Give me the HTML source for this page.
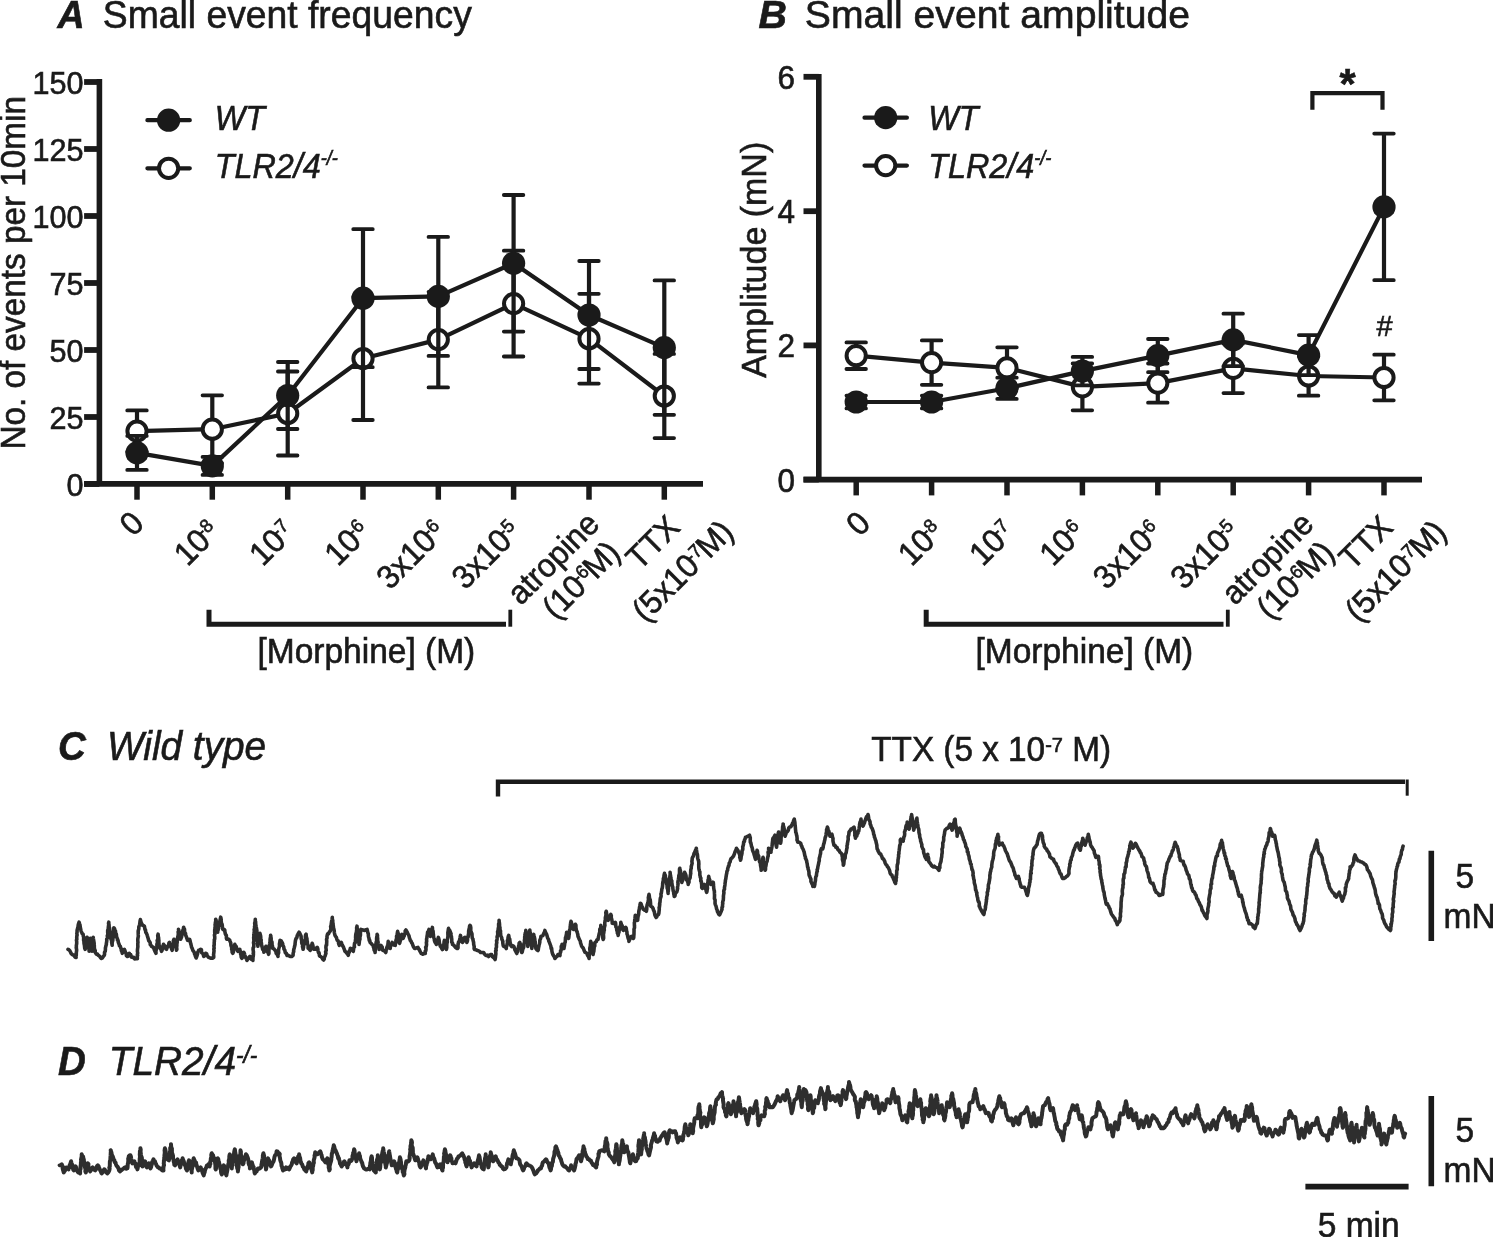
<!DOCTYPE html>
<html><head><meta charset="utf-8"><title>Figure</title>
<style>
html,body{margin:0;padding:0;background:#fff;}
svg{display:block;font-family:"Liberation Sans", Arial, Helvetica, sans-serif;fill:#1a1a1a;}
text{stroke:#1a1a1a;stroke-width:0.6px;}
</style></head><body>
<svg width="1493" height="1237" viewBox="0 0 1493 1237">
<rect width="1493" height="1237" fill="#fff"/>
<text transform="translate(57.5 28.3) scale(1 1.04)" font-size="37.5" font-weight="bold" font-style="italic">A</text>
<text transform="translate(102.8 28.3) scale(1 1.04)" font-size="37.3">Small event frequency</text>
<text transform="translate(758.5 28.3) scale(1.05 1.04)" font-size="37.5" font-weight="bold" font-style="italic">B</text>
<text transform="translate(804.8 28.3) scale(1.05 1.04)" font-size="37.3">Small event amplitude</text>
<path d="M99.4 79.1 V483.9" stroke="#1a1a1a" stroke-width="5.6" fill="none"/>
<path d="M84.10000000000001 483.9 H703" stroke="#1a1a1a" stroke-width="5.9" fill="none"/>
<path d="M84.10000000000001 82 H99.4" stroke="#1a1a1a" stroke-width="5.8" fill="none"/>
<text transform="translate(83.5 93.6) scale(1 1.04)" font-size="30.6" text-anchor="end">150</text>
<path d="M84.10000000000001 149 H99.4" stroke="#1a1a1a" stroke-width="5.8" fill="none"/>
<text transform="translate(83.5 160.6) scale(1 1.04)" font-size="30.6" text-anchor="end">125</text>
<path d="M84.10000000000001 216 H99.4" stroke="#1a1a1a" stroke-width="5.8" fill="none"/>
<text transform="translate(83.5 227.6) scale(1 1.04)" font-size="30.6" text-anchor="end">100</text>
<path d="M84.10000000000001 283 H99.4" stroke="#1a1a1a" stroke-width="5.8" fill="none"/>
<text transform="translate(83.5 294.6) scale(1 1.04)" font-size="30.6" text-anchor="end">75</text>
<path d="M84.10000000000001 350 H99.4" stroke="#1a1a1a" stroke-width="5.8" fill="none"/>
<text transform="translate(83.5 361.6) scale(1 1.04)" font-size="30.6" text-anchor="end">50</text>
<path d="M84.10000000000001 417 H99.4" stroke="#1a1a1a" stroke-width="5.8" fill="none"/>
<text transform="translate(83.5 428.6) scale(1 1.04)" font-size="30.6" text-anchor="end">25</text>
<path d="M84.10000000000001 484 H99.4" stroke="#1a1a1a" stroke-width="5.8" fill="none"/>
<text transform="translate(83.5 495.6) scale(1 1.04)" font-size="30.6" text-anchor="end">0</text>
<path d="M137.0 483.9 V499.7" stroke="#1a1a1a" stroke-width="5.5" fill="none"/>
<path d="M212.3 483.9 V499.7" stroke="#1a1a1a" stroke-width="5.5" fill="none"/>
<path d="M287.7 483.9 V499.7" stroke="#1a1a1a" stroke-width="5.5" fill="none"/>
<path d="M363.0 483.9 V499.7" stroke="#1a1a1a" stroke-width="5.5" fill="none"/>
<path d="M438.3 483.9 V499.7" stroke="#1a1a1a" stroke-width="5.5" fill="none"/>
<path d="M513.6 483.9 V499.7" stroke="#1a1a1a" stroke-width="5.5" fill="none"/>
<path d="M589.0 483.9 V499.7" stroke="#1a1a1a" stroke-width="5.5" fill="none"/>
<path d="M664.3 483.9 V499.7" stroke="#1a1a1a" stroke-width="5.5" fill="none"/>
<path d="M137.0 410.40000000000003 V451.8" stroke="#1a1a1a" stroke-width="4.2" fill="none"/><path d="M127.25 410.40000000000003 H146.75 M127.25 451.8 H146.75" stroke="#1a1a1a" stroke-width="3.8" fill="none" stroke-linecap="round"/>
<path d="M212.3 395.3 V463.09999999999997" stroke="#1a1a1a" stroke-width="4.2" fill="none"/><path d="M202.55 395.3 H222.05 M202.55 463.09999999999997 H222.05" stroke="#1a1a1a" stroke-width="3.8" fill="none" stroke-linecap="round"/>
<path d="M287.7 371.5 V455.5" stroke="#1a1a1a" stroke-width="4.2" fill="none"/><path d="M277.95 371.5 H297.45 M277.95 455.5 H297.45" stroke="#1a1a1a" stroke-width="3.8" fill="none" stroke-linecap="round"/>
<path d="M363.0 297.0 V420.0" stroke="#1a1a1a" stroke-width="4.2" fill="none"/><path d="M353.25 297.0 H372.75 M353.25 420.0 H372.75" stroke="#1a1a1a" stroke-width="3.8" fill="none" stroke-linecap="round"/>
<path d="M438.3 291.8 V387.40000000000003" stroke="#1a1a1a" stroke-width="4.2" fill="none"/><path d="M428.55 291.8 H448.05 M428.55 387.40000000000003 H448.05" stroke="#1a1a1a" stroke-width="3.8" fill="none" stroke-linecap="round"/>
<path d="M513.6 250.70000000000002 V356.5" stroke="#1a1a1a" stroke-width="4.2" fill="none"/><path d="M503.85 250.70000000000002 H523.35 M503.85 356.5 H523.35" stroke="#1a1a1a" stroke-width="3.8" fill="none" stroke-linecap="round"/>
<path d="M589.0 293.8 V383.59999999999997" stroke="#1a1a1a" stroke-width="4.2" fill="none"/><path d="M579.25 293.8 H598.75 M579.25 383.59999999999997 H598.75" stroke="#1a1a1a" stroke-width="3.8" fill="none" stroke-linecap="round"/>
<path d="M664.3 353.9 V438.1" stroke="#1a1a1a" stroke-width="4.2" fill="none"/><path d="M654.55 353.9 H674.05 M654.55 438.1 H674.05" stroke="#1a1a1a" stroke-width="3.8" fill="none" stroke-linecap="round"/>
<polyline points="137.0,431.1 212.3,429.2 287.7,413.5 363.0,358.5 438.3,339.6 513.6,303.6 589.0,338.7 664.3,396" stroke="#1a1a1a" stroke-width="4.2" fill="none" stroke-linejoin="round"/>
<circle cx="137.0" cy="431.1" r="9.6" fill="#fff" stroke="#1a1a1a" stroke-width="4"/>
<circle cx="212.3" cy="429.2" r="9.6" fill="#fff" stroke="#1a1a1a" stroke-width="4"/>
<circle cx="287.7" cy="413.5" r="9.6" fill="#fff" stroke="#1a1a1a" stroke-width="4"/>
<circle cx="363.0" cy="358.5" r="9.6" fill="#fff" stroke="#1a1a1a" stroke-width="4"/>
<circle cx="438.3" cy="339.6" r="9.6" fill="#fff" stroke="#1a1a1a" stroke-width="4"/>
<circle cx="513.6" cy="303.6" r="9.6" fill="#fff" stroke="#1a1a1a" stroke-width="4"/>
<circle cx="589.0" cy="338.7" r="9.6" fill="#fff" stroke="#1a1a1a" stroke-width="4"/>
<circle cx="664.3" cy="396" r="9.6" fill="#fff" stroke="#1a1a1a" stroke-width="4"/>
<path d="M137.0 435.9 V469.9" stroke="#1a1a1a" stroke-width="4.2" fill="none"/><path d="M127.25 435.9 H146.75 M127.25 469.9 H146.75" stroke="#1a1a1a" stroke-width="3.8" fill="none" stroke-linecap="round"/>
<path d="M212.3 456.9 V474.9" stroke="#1a1a1a" stroke-width="4.2" fill="none"/><path d="M202.55 456.9 H222.05 M202.55 474.9 H222.05" stroke="#1a1a1a" stroke-width="3.8" fill="none" stroke-linecap="round"/>
<path d="M287.7 362.0 V429.0" stroke="#1a1a1a" stroke-width="4.2" fill="none"/><path d="M277.95 362.0 H297.45 M277.95 429.0 H297.45" stroke="#1a1a1a" stroke-width="3.8" fill="none" stroke-linecap="round"/>
<path d="M363.0 229.2 V367.2" stroke="#1a1a1a" stroke-width="4.2" fill="none"/><path d="M353.25 229.2 H372.75 M353.25 367.2 H372.75" stroke="#1a1a1a" stroke-width="3.8" fill="none" stroke-linecap="round"/>
<path d="M438.3 236.89999999999998 V355.9" stroke="#1a1a1a" stroke-width="4.2" fill="none"/><path d="M428.55 236.89999999999998 H448.05 M428.55 355.9 H448.05" stroke="#1a1a1a" stroke-width="3.8" fill="none" stroke-linecap="round"/>
<path d="M513.6 195.0 V331.6" stroke="#1a1a1a" stroke-width="4.2" fill="none"/><path d="M503.85 195.0 H523.35 M503.85 331.6 H523.35" stroke="#1a1a1a" stroke-width="3.8" fill="none" stroke-linecap="round"/>
<path d="M589.0 261 V369" stroke="#1a1a1a" stroke-width="4.2" fill="none"/><path d="M579.25 261 H598.75 M579.25 369 H598.75" stroke="#1a1a1a" stroke-width="3.8" fill="none" stroke-linecap="round"/>
<path d="M664.3 280.40000000000003 V414.8" stroke="#1a1a1a" stroke-width="4.2" fill="none"/><path d="M654.55 280.40000000000003 H674.05 M654.55 414.8 H674.05" stroke="#1a1a1a" stroke-width="3.8" fill="none" stroke-linecap="round"/>
<polyline points="137.0,452.9 212.3,465.9 287.7,395.5 363.0,298.2 438.3,296.4 513.6,263.3 589.0,315 664.3,347.6" stroke="#1a1a1a" stroke-width="4.2" fill="none" stroke-linejoin="round"/>
<circle cx="137.0" cy="452.9" r="11.6" fill="#1a1a1a"/>
<circle cx="212.3" cy="465.9" r="11.6" fill="#1a1a1a"/>
<circle cx="287.7" cy="395.5" r="11.6" fill="#1a1a1a"/>
<circle cx="363.0" cy="298.2" r="11.6" fill="#1a1a1a"/>
<circle cx="438.3" cy="296.4" r="11.6" fill="#1a1a1a"/>
<circle cx="513.6" cy="263.3" r="11.6" fill="#1a1a1a"/>
<circle cx="589.0" cy="315" r="11.6" fill="#1a1a1a"/>
<circle cx="664.3" cy="347.6" r="11.6" fill="#1a1a1a"/>
<path d="M147.4 120.2 H189.79999999999998 M147.4 168.3 H189.79999999999998" stroke="#1a1a1a" stroke-width="4.2" fill="none" stroke-linecap="round"/>
<circle cx="168.6" cy="120.2" r="11.6" fill="#1a1a1a"/>
<circle cx="168.6" cy="168.3" r="9.6" fill="#fff" stroke="#1a1a1a" stroke-width="4"/>
<text transform="translate(214.7 130.2) scale(0.965 1.04)" font-size="33.5" font-style="italic">WT</text>
<text transform="translate(214.7 177.6) scale(0.965 1.04)" font-size="33.5" font-style="italic">TLR2/4<tspan font-size="56%" dy="-0.64em">-/-</tspan></text>
<text transform="translate(145.6 525.0) rotate(-45) scale(1 1.04)" font-size="31.5" text-anchor="end">0</text>
<text transform="translate(221.1 533.6) rotate(-45) scale(1 1.04)" font-size="31.5" text-anchor="end">10<tspan font-size="58%" dy="-0.5em" dx="-3.6">-8</tspan></text>
<text transform="translate(296.5 533.6) rotate(-45) scale(1 1.04)" font-size="31.5" text-anchor="end">10<tspan font-size="58%" dy="-0.5em" dx="-3.6">-7</tspan></text>
<text transform="translate(371.8 533.6) rotate(-45) scale(1 1.04)" font-size="31.5" text-anchor="end">10<tspan font-size="58%" dy="-0.5em" dx="-3.6">-6</tspan></text>
<text transform="translate(447.1 533.6) rotate(-45) scale(1 1.04)" font-size="31.5" text-anchor="end">3x10<tspan font-size="58%" dy="-0.5em" dx="-3.6">-6</tspan></text>
<text transform="translate(522.4 533.6) rotate(-45) scale(1 1.04)" font-size="31.5" text-anchor="end">3x10<tspan font-size="58%" dy="-0.5em" dx="-3.6">-5</tspan></text>
<text transform="translate(561.0 566.1) rotate(-45) scale(1 1.04)" font-size="31.5" text-anchor="middle">atropine</text>
<text transform="translate(588.8 587.6) rotate(-45) scale(1 1.04)" font-size="31.5" text-anchor="middle">(10<tspan font-size="58%" dy="-0.5em" dx="-3.6">-6</tspan><tspan dy="0.29em" dx="-1.3">M)</tspan></text>
<text transform="translate(660.6 550.1) rotate(-45) scale(1 1.04)" font-size="31.5" text-anchor="middle">TTX</text>
<text transform="translate(690.3 578.55) rotate(-45) scale(1 1.04)" font-size="31.5" text-anchor="middle">(5x10<tspan font-size="58%" dy="-0.5em" dx="-3.6">-7</tspan><tspan dy="0.29em" dx="-1.3">M)</tspan></text>
<path d="M209 609.7 V624.2 H506" stroke="#1a1a1a" stroke-width="5" fill="none" stroke-linejoin="miter"/>
<path d="M510.3 609.7 V626.7" stroke="#1a1a1a" stroke-width="3.8" fill="none"/>
<text transform="translate(257.5 663) scale(1 1.04)" font-size="33.5">[Morphine] (M)</text>
<path d="M818.8 73.89999999999999 V479.6" stroke="#1a1a1a" stroke-width="5.6" fill="none"/>
<path d="M803.5 479.6 H1422" stroke="#1a1a1a" stroke-width="5.9" fill="none"/>
<path d="M803.5 76.8 H818.8" stroke="#1a1a1a" stroke-width="5.8" fill="none"/>
<text transform="translate(795 88.8) scale(1 1.04)" font-size="31.5" text-anchor="end">6</text>
<path d="M803.5 211.2 H818.8" stroke="#1a1a1a" stroke-width="5.8" fill="none"/>
<text transform="translate(795 223.2) scale(1 1.04)" font-size="31.5" text-anchor="end">4</text>
<path d="M803.5 345.4 H818.8" stroke="#1a1a1a" stroke-width="5.8" fill="none"/>
<text transform="translate(795 357.4) scale(1 1.04)" font-size="31.5" text-anchor="end">2</text>
<path d="M803.5 479.6 H818.8" stroke="#1a1a1a" stroke-width="5.8" fill="none"/>
<text transform="translate(795 491.6) scale(1 1.04)" font-size="31.5" text-anchor="end">0</text>
<path d="M856.2 479.6 V495.40000000000003" stroke="#1a1a1a" stroke-width="5.5" fill="none"/>
<path d="M931.6 479.6 V495.40000000000003" stroke="#1a1a1a" stroke-width="5.5" fill="none"/>
<path d="M1007.0 479.6 V495.40000000000003" stroke="#1a1a1a" stroke-width="5.5" fill="none"/>
<path d="M1082.4 479.6 V495.40000000000003" stroke="#1a1a1a" stroke-width="5.5" fill="none"/>
<path d="M1157.8 479.6 V495.40000000000003" stroke="#1a1a1a" stroke-width="5.5" fill="none"/>
<path d="M1233.2 479.6 V495.40000000000003" stroke="#1a1a1a" stroke-width="5.5" fill="none"/>
<path d="M1308.6 479.6 V495.40000000000003" stroke="#1a1a1a" stroke-width="5.5" fill="none"/>
<path d="M1384.0 479.6 V495.40000000000003" stroke="#1a1a1a" stroke-width="5.5" fill="none"/>
<path d="M856.2 342.4 V369.0" stroke="#1a1a1a" stroke-width="4.2" fill="none"/><path d="M846.45 342.4 H865.95 M846.45 369.0 H865.95" stroke="#1a1a1a" stroke-width="3.8" fill="none" stroke-linecap="round"/>
<path d="M931.6 340.40000000000003 V384.8" stroke="#1a1a1a" stroke-width="4.2" fill="none"/><path d="M921.85 340.40000000000003 H941.35 M921.85 384.8 H941.35" stroke="#1a1a1a" stroke-width="3.8" fill="none" stroke-linecap="round"/>
<path d="M1007.0 347.29999999999995 V388.5" stroke="#1a1a1a" stroke-width="4.2" fill="none"/><path d="M997.25 347.29999999999995 H1016.75 M997.25 388.5 H1016.75" stroke="#1a1a1a" stroke-width="3.8" fill="none" stroke-linecap="round"/>
<path d="M1082.4 363.5 V410.29999999999995" stroke="#1a1a1a" stroke-width="4.2" fill="none"/><path d="M1072.65 363.5 H1092.15 M1072.65 410.29999999999995 H1092.15" stroke="#1a1a1a" stroke-width="3.8" fill="none" stroke-linecap="round"/>
<path d="M1157.8 363.5 V402.70000000000005" stroke="#1a1a1a" stroke-width="4.2" fill="none"/><path d="M1148.05 363.5 H1167.55 M1148.05 402.70000000000005 H1167.55" stroke="#1a1a1a" stroke-width="3.8" fill="none" stroke-linecap="round"/>
<path d="M1233.2 343.7 V393.09999999999997" stroke="#1a1a1a" stroke-width="4.2" fill="none"/><path d="M1223.45 343.7 H1242.95 M1223.45 393.09999999999997 H1242.95" stroke="#1a1a1a" stroke-width="3.8" fill="none" stroke-linecap="round"/>
<path d="M1308.6 356.3 V395.7" stroke="#1a1a1a" stroke-width="4.2" fill="none"/><path d="M1298.85 356.3 H1318.35 M1298.85 395.7 H1318.35" stroke="#1a1a1a" stroke-width="3.8" fill="none" stroke-linecap="round"/>
<path d="M1384.0 354.7 V400.3" stroke="#1a1a1a" stroke-width="4.2" fill="none"/><path d="M1374.25 354.7 H1393.75 M1374.25 400.3 H1393.75" stroke="#1a1a1a" stroke-width="3.8" fill="none" stroke-linecap="round"/>
<polyline points="856.2,355.7 931.6,362.6 1007.0,367.9 1082.4,386.9 1157.8,383.1 1233.2,368.4 1308.6,376 1384.0,377.5" stroke="#1a1a1a" stroke-width="4.2" fill="none" stroke-linejoin="round"/>
<circle cx="856.2" cy="355.7" r="9.6" fill="#fff" stroke="#1a1a1a" stroke-width="4"/>
<circle cx="931.6" cy="362.6" r="9.6" fill="#fff" stroke="#1a1a1a" stroke-width="4"/>
<circle cx="1007.0" cy="367.9" r="9.6" fill="#fff" stroke="#1a1a1a" stroke-width="4"/>
<circle cx="1082.4" cy="386.9" r="9.6" fill="#fff" stroke="#1a1a1a" stroke-width="4"/>
<circle cx="1157.8" cy="383.1" r="9.6" fill="#fff" stroke="#1a1a1a" stroke-width="4"/>
<circle cx="1233.2" cy="368.4" r="9.6" fill="#fff" stroke="#1a1a1a" stroke-width="4"/>
<circle cx="1308.6" cy="376" r="9.6" fill="#fff" stroke="#1a1a1a" stroke-width="4"/>
<circle cx="1384.0" cy="377.5" r="9.6" fill="#fff" stroke="#1a1a1a" stroke-width="4"/>
<path d="M856.2 395.6 V408.4" stroke="#1a1a1a" stroke-width="4.2" fill="none"/><path d="M846.45 395.6 H865.95 M846.45 408.4 H865.95" stroke="#1a1a1a" stroke-width="3.8" fill="none" stroke-linecap="round"/>
<path d="M931.6 395.6 V408.4" stroke="#1a1a1a" stroke-width="4.2" fill="none"/><path d="M921.85 395.6 H941.35 M921.85 408.4 H941.35" stroke="#1a1a1a" stroke-width="3.8" fill="none" stroke-linecap="round"/>
<path d="M1007.0 377.7 V398.90000000000003" stroke="#1a1a1a" stroke-width="4.2" fill="none"/><path d="M997.25 377.7 H1016.75 M997.25 398.90000000000003 H1016.75" stroke="#1a1a1a" stroke-width="3.8" fill="none" stroke-linecap="round"/>
<path d="M1082.4 356.90000000000003 V385.3" stroke="#1a1a1a" stroke-width="4.2" fill="none"/><path d="M1072.65 356.90000000000003 H1092.15 M1072.65 385.3 H1092.15" stroke="#1a1a1a" stroke-width="3.8" fill="none" stroke-linecap="round"/>
<path d="M1157.8 339.0 V372.20000000000005" stroke="#1a1a1a" stroke-width="4.2" fill="none"/><path d="M1148.05 339.0 H1167.55 M1148.05 372.20000000000005 H1167.55" stroke="#1a1a1a" stroke-width="3.8" fill="none" stroke-linecap="round"/>
<path d="M1233.2 313.7 V366.09999999999997" stroke="#1a1a1a" stroke-width="4.2" fill="none"/><path d="M1223.45 313.7 H1242.95 M1223.45 366.09999999999997 H1242.95" stroke="#1a1a1a" stroke-width="3.8" fill="none" stroke-linecap="round"/>
<path d="M1308.6 335.1 V375.1" stroke="#1a1a1a" stroke-width="4.2" fill="none"/><path d="M1298.85 335.1 H1318.35 M1298.85 375.1 H1318.35" stroke="#1a1a1a" stroke-width="3.8" fill="none" stroke-linecap="round"/>
<path d="M1384.0 133.60000000000002 V280.2" stroke="#1a1a1a" stroke-width="4.2" fill="none"/><path d="M1374.25 133.60000000000002 H1393.75 M1374.25 280.2 H1393.75" stroke="#1a1a1a" stroke-width="3.8" fill="none" stroke-linecap="round"/>
<polyline points="856.2,402.0 931.6,402.0 1007.0,388.3 1082.4,371.1 1157.8,355.6 1233.2,339.9 1308.6,355.1 1384.0,206.9" stroke="#1a1a1a" stroke-width="4.2" fill="none" stroke-linejoin="round"/>
<circle cx="856.2" cy="402.0" r="11.6" fill="#1a1a1a"/>
<circle cx="931.6" cy="402.0" r="11.6" fill="#1a1a1a"/>
<circle cx="1007.0" cy="388.3" r="11.6" fill="#1a1a1a"/>
<circle cx="1082.4" cy="371.1" r="11.6" fill="#1a1a1a"/>
<circle cx="1157.8" cy="355.6" r="11.6" fill="#1a1a1a"/>
<circle cx="1233.2" cy="339.9" r="11.6" fill="#1a1a1a"/>
<circle cx="1308.6" cy="355.1" r="11.6" fill="#1a1a1a"/>
<circle cx="1384.0" cy="206.9" r="11.6" fill="#1a1a1a"/>
<path d="M864.5 117.65 H906.9000000000001 M864.5 165.6 H906.9000000000001" stroke="#1a1a1a" stroke-width="4.2" fill="none" stroke-linecap="round"/>
<circle cx="885.7" cy="117.65" r="11.6" fill="#1a1a1a"/>
<circle cx="885.7" cy="165.6" r="9.6" fill="#fff" stroke="#1a1a1a" stroke-width="4"/>
<text transform="translate(928.3 130.2) scale(0.965 1.04)" font-size="33.5" font-style="italic">WT</text>
<text transform="translate(928.3 177.6) scale(0.965 1.04)" font-size="33.5" font-style="italic">TLR2/4<tspan font-size="56%" dy="-0.64em">-/-</tspan></text>
<text transform="translate(872.1 525.0) rotate(-45) scale(1 1.04)" font-size="31.5" text-anchor="end">0</text>
<text transform="translate(945.2 533.6) rotate(-45) scale(1 1.04)" font-size="31.5" text-anchor="end">10<tspan font-size="58%" dy="-0.5em" dx="-3.6">-8</tspan></text>
<text transform="translate(1016.4 533.6) rotate(-45) scale(1 1.04)" font-size="31.5" text-anchor="end">10<tspan font-size="58%" dy="-0.5em" dx="-3.6">-7</tspan></text>
<text transform="translate(1086.6 533.6) rotate(-45) scale(1 1.04)" font-size="31.5" text-anchor="end">10<tspan font-size="58%" dy="-0.5em" dx="-3.6">-6</tspan></text>
<text transform="translate(1163.7 533.6) rotate(-45) scale(1 1.04)" font-size="31.5" text-anchor="end">3x10<tspan font-size="58%" dy="-0.5em" dx="-3.6">-6</tspan></text>
<text transform="translate(1241.2 533.6) rotate(-45) scale(1 1.04)" font-size="31.5" text-anchor="end">3x10<tspan font-size="58%" dy="-0.5em" dx="-3.6">-5</tspan></text>
<text transform="translate(1275.2 566.1) rotate(-45) scale(1 1.04)" font-size="31.5" text-anchor="middle">atropine</text>
<text transform="translate(1303.0 587.6) rotate(-45) scale(1 1.04)" font-size="31.5" text-anchor="middle">(10<tspan font-size="58%" dy="-0.5em" dx="-3.6">-6</tspan><tspan dy="0.29em" dx="-1.3">M)</tspan></text>
<text transform="translate(1373.6 550.1) rotate(-45) scale(1 1.04)" font-size="31.5" text-anchor="middle">TTX</text>
<text transform="translate(1403.3 578.55) rotate(-45) scale(1 1.04)" font-size="31.5" text-anchor="middle">(5x10<tspan font-size="58%" dy="-0.5em" dx="-3.6">-7</tspan><tspan dy="0.29em" dx="-1.3">M)</tspan></text>
<path d="M926.2 609.7 V624.2 H1223.5" stroke="#1a1a1a" stroke-width="5" fill="none" stroke-linejoin="miter"/>
<path d="M1227.8 609.7 V626.7" stroke="#1a1a1a" stroke-width="3.8" fill="none"/>
<text transform="translate(975.5 663) scale(1 1.04)" font-size="33.5">[Morphine] (M)</text>
<text transform="translate(25 272.8) rotate(-90) scale(1 1.04)" font-size="33.3" text-anchor="middle">No. of events per 10min</text>
<text transform="translate(765.6 259.8) rotate(-90) scale(1 1.04)" font-size="34" text-anchor="middle">Amplitude (mN)</text>
<path d="M1312.4 109.8 V93.05 H1382.5 V109.8" stroke="#1a1a1a" stroke-width="4.2" fill="none"/>
<text transform="translate(1347.5 98.3) scale(1 1.04)" font-size="41.5" font-weight="bold" text-anchor="middle">*</text>
<text transform="translate(1384.6 336.1) scale(1 1.04)" font-size="29" text-anchor="middle">#</text>
<text transform="translate(58 760.2) scale(1 1.04)" font-size="38.5" font-weight="bold" font-style="italic">C</text>
<text transform="translate(107 760.2) scale(1 1.04)" font-size="38.8" font-style="italic">Wild type</text>
<text transform="translate(58 1074.7) scale(1 1.04)" font-size="38.5" font-weight="bold" font-style="italic">D</text>
<text transform="translate(108.8 1074.7) scale(1 1.04)" font-size="38.8" font-style="italic">TLR2/4<tspan font-size="58%" dy="-0.51em">-/-</tspan></text>
<text transform="translate(871.2 760.9) scale(1 1.04)" font-size="33.3">TTX (5 x 10<tspan font-size="60%" dy="-0.45em">-7</tspan><tspan dy="0.27em"> M)</tspan></text>
<path d="M498 796.4 V781.7 H1405" stroke="#1a1a1a" stroke-width="4.4" fill="none"/>
<path d="M1407.2 779.5 V795.7" stroke="#1a1a1a" stroke-width="3" fill="none"/>
<polyline points="68.0,949.3 68.71,949.67 69.73,950.53 70.48,952.06 71.01,953.31 72.1,954.3 72.82,954.96 73.84,955.11 75.05,957.21 76.1,957.4 75.93,955.39 76.29,955.18 76.31,952.68 76.61,950.54 76.59,949.47 76.22,947.65 76.37,947.39 76.35,945.46 76.68,943.57 76.68,941.5 76.45,940.25 76.87,939.14 76.71,937.91 76.85,935.88 77.11,935.09 76.84,933.36 77.06,932.39 77.1,930.2 77.57,928.48 78.05,926.85 78.05,926.66 78.22,924.85 78.49,923.84 79.1,922.2 79.59,923.83 79.99,924.86 80.22,926.87 80.48,928.12 80.97,930.5 81.1,931.2 81.75,932.5 82.17,933.56 83.1,934.2 83.39,936.6 83.69,936.83 83.63,939.03 83.61,940.17 83.9,941.06 84.04,943.74 84.28,944.32 84.63,946.95 84.65,947.7 85.1,949.3 85.38,948.49 85.79,946.96 85.72,944.65 86.02,943.99 86.62,941.17 86.41,939.82 86.69,938.77 87.1,937.3 87.38,938.43 87.25,940.27 87.69,942.09 88.26,943.87 88.22,945.29 88.54,945.83 88.9,948.69 89.1,950.28 89.1,951.3 89.19,949.67 89.17,948.65 89.3,946.19 89.55,944.91 89.78,943.27 89.73,942.01 89.95,940.94 90.06,940.42 90.5,938.3 90.75,939.11 90.71,940.91 90.95,941.95 91.42,944.97 91.37,945.49 91.32,946.25 91.65,947.99 92.12,949.25 92.1,951.3 91.94,950.56 92.36,947.55 92.49,945.78 92.61,945.94 92.93,943.88 92.69,941.73 92.76,940.9 93.1,939.36 93.2,937.3 93.3,938.3 93.79,941.17 94.01,942.35 94.19,943.73 94.04,944.83 94.31,945.45 94.32,947.4 94.66,949.65 95.27,950.71 95.2,952.3 96.46,954.18 97.47,954.06 98.2,955.3 99.03,955.84 100.02,956.83 101.2,958.4 102.27,958.09 103.4,956.3 104.2,955.3 104.56,954.29 104.5,952.5 105.26,951.17 105.44,949.08 105.37,948.09 105.74,946.57 106.39,944.29 106.32,943.74 106.79,940.8 106.7,939.22 107.2,938.3 107.59,937.39 107.28,935.96 107.92,934.19 107.69,932.53 107.71,930.11 108.36,929.79 108.23,928.84 108.32,927.26 108.7,924.61 108.51,923.29 108.8,922.2 108.84,923.78 109.06,924.91 109.18,927.22 109.51,927.84 109.85,930.07 109.95,931.52 110.2,932.2 110.42,933.71 110.66,934.24 110.83,936.0 110.79,938.56 111.11,939.43 111.67,941.03 111.65,942.42 112.01,944.36 112.2,945.3 112.11,943.82 112.34,941.72 112.8,940.54 112.82,939.4 113.17,937.24 113.14,935.76 113.23,934.51 113.34,932.63 113.5,931.78 113.77,930.07 113.8,927.8 114.57,928.65 114.84,931.16 115.5,930.99 115.57,932.82 116.3,934.2 116.38,935.08 116.71,937.21 117.47,938.96 117.43,939.99 118.06,940.31 118.3,942.3 119.2,944.47 119.47,945.78 120.3,946.3 120.64,947.68 121.39,949.7 121.3,950.38 121.91,951.61 122.3,953.3 122.78,951.64 123.77,949.77 124.3,949.3 124.93,950.61 125.21,951.84 126.17,953.58 126.44,955.85 127.3,956.4 128.14,956.22 128.4,953.91 129.3,953.3 129.77,954.83 130.66,954.68 131.5,957.12 132.3,957.4 133.77,957.32 134.64,958.85 136.17,958.81 137.4,958.8 137.21,956.41 137.62,955.49 137.31,954.82 137.7,952.99 137.43,951.5 137.47,949.92 137.76,947.39 137.88,946.86 137.76,943.83 137.97,942.44 137.78,940.71 137.8,939.2 138.01,937.79 138.33,936.18 138.23,934.39 138.2,932.51 138.19,930.92 138.4,930.2 138.83,928.78 138.79,927.13 139.52,924.95 139.73,924.02 139.83,923.23 140.05,921.13 140.4,919.6 141.01,921.87 141.31,923.0 142.02,924.04 142.4,925.2 143.34,925.43 144.4,926.2 144.53,926.93 144.94,929.43 145.45,929.79 145.75,932.41 146.4,933.2 147.12,934.86 147.27,935.44 147.78,937.18 148.19,938.5 148.76,940.78 149.4,941.3 150.18,942.63 150.25,944.64 150.79,944.79 151.4,946.3 152.1,946.59 153.4,947.3 153.9,948.5 154.26,949.71 154.66,950.48 155.23,951.92 156.0,953.3 155.89,950.97 156.21,949.88 156.54,948.94 156.8,947.71 156.94,946.64 156.9,944.17 157.42,942.38 157.43,941.8 157.18,940.68 157.85,938.84 157.92,937.7 157.72,935.71 158.1,934.2 158.28,936.32 158.63,937.81 158.68,939.44 158.91,940.6 158.81,940.92 158.93,943.02 159.09,945.39 159.5,946.3 160.04,947.78 160.58,949.13 160.99,949.16 161.5,951.3 162.08,950.35 162.3,948.56 162.8,946.32 163.24,945.25 163.5,944.3 163.99,945.13 165.14,946.27 165.89,948.91 166.5,949.3 167.1,947.69 167.69,946.83 168.46,945.31 168.99,942.94 169.5,942.3 169.72,943.19 170.51,944.61 170.84,945.42 170.97,947.22 171.77,949.31 172.1,950.3 172.46,948.35 172.62,947.09 172.85,944.9 173.36,943.47 173.67,943.23 173.35,940.8 173.9,939.3 174.42,941.52 174.52,941.63 174.7,944.23 175.03,944.95 175.31,946.22 176.12,946.89 176.37,948.94 176.5,950.3 176.87,949.16 176.62,948.0 176.92,944.92 176.77,944.26 177.18,942.41 177.14,940.98 177.39,940.36 177.34,938.69 177.99,936.05 178.18,935.61 178.31,933.34 178.14,932.02 178.66,930.87 178.5,929.2 178.72,930.51 178.97,931.27 179.16,934.13 179.57,935.76 179.85,935.99 180.31,937.3 180.6,939.3 180.9,938.61 181.58,936.84 181.8,935.51 182.36,933.34 182.61,930.93 182.99,930.14 183.38,928.97 183.6,927.2 183.81,927.74 184.52,929.23 184.58,930.97 184.81,933.03 185.55,933.52 185.6,935.3 186.19,936.19 186.63,937.61 186.9,938.44 187.6,940.3 188.42,940.53 189.6,939.3 189.93,940.13 190.51,942.86 190.57,942.65 190.75,943.9 191.17,945.23 191.6,947.3 192.11,948.2 192.98,950.66 193.6,951.3 194.27,952.48 194.59,954.02 195.09,955.03 195.42,956.26 196.2,958.0 196.88,956.04 197.0,955.67 197.62,953.64 197.66,952.41 198.14,951.49 198.6,950.3 199.87,950.43 200.6,949.3 201.44,949.86 201.56,952.52 202.7,953.51 203.13,954.08 203.7,956.4 204.3,956.13 205.23,954.97 205.7,953.3 206.73,953.87 206.97,954.73 207.96,956.7 208.7,957.4 210.46,958.1 211.7,958.0 212.79,958.18 213.7,957.4 213.74,955.92 213.55,954.76 213.73,953.43 214.04,950.75 213.79,949.08 214.16,948.31 213.9,945.6 214.21,944.95 214.2,942.73 214.39,940.77 214.27,940.0 214.73,938.76 214.74,936.88 214.42,934.89 214.91,934.14 214.7,932.2 214.7,929.89 214.92,929.63 214.99,927.43 215.24,927.19 215.09,924.14 215.27,923.39 215.59,921.55 215.77,921.07 215.7,919.2 215.93,920.11 216.43,921.75 216.56,923.05 216.42,925.45 216.69,927.24 217.03,927.3 217.09,929.16 217.58,931.56 217.7,932.2 217.79,930.51 218.13,930.05 218.39,926.89 218.64,926.01 219.44,925.39 219.64,924.1 220.06,921.39 219.91,920.98 220.55,917.86 220.7,917.2 221.03,918.55 221.08,920.04 221.19,921.02 221.48,923.22 222.12,924.38 222.35,926.1 222.3,928.2 223.05,929.45 224.16,929.41 224.8,930.2 224.86,931.67 225.39,933.99 225.62,934.51 226.37,935.42 226.41,938.34 226.8,939.3 228.46,938.97 229.8,940.3 229.85,940.96 230.72,942.75 230.95,945.35 231.04,945.67 231.74,947.73 231.66,949.36 232.02,950.01 232.17,952.32 232.8,953.3 233.38,952.04 233.73,949.44 233.64,948.76 234.41,948.12 234.4,945.35 234.8,944.3 235.36,945.69 236.26,946.53 236.78,948.93 237.39,950.39 237.8,951.3 238.86,949.99 239.8,949.3 240.03,950.57 240.64,951.58 240.62,954.31 240.98,954.58 241.19,956.98 241.8,958.4 242.1,958.04 242.83,956.84 242.86,953.99 243.16,953.52 243.8,952.3 244.44,953.55 244.67,954.85 245.42,956.66 246.02,958.32 246.48,958.37 246.9,960.4 247.85,959.03 248.44,958.17 249.29,956.86 249.9,956.4 250.5,956.94 251.19,959.09 252.2,959.09 252.9,960.4 252.9,959.78 253.03,956.9 253.27,956.16 253.44,953.66 253.2,953.44 253.48,952.11 253.06,949.48 253.17,947.79 253.75,946.99 253.78,945.11 253.81,943.74 253.51,942.82 253.98,940.11 253.83,939.53 253.67,937.57 253.9,936.3 253.81,934.21 254.01,933.37 254.37,931.1 254.12,929.77 254.64,927.96 254.55,926.44 254.97,925.5 254.66,923.15 254.98,922.4 255.26,920.02 255.3,919.2 255.28,921.0 255.6,921.7 255.72,924.35 255.9,925.1 256.1,926.27 256.59,928.76 256.46,928.77 256.86,930.22 256.9,932.2 256.71,934.49 257.08,935.91 257.18,937.59 257.32,937.86 257.16,940.13 257.65,942.34 257.43,943.39 257.71,944.74 257.9,946.3 257.91,944.45 258.36,944.15 258.33,941.92 258.97,941.32 258.83,938.35 259.5,938.42 259.45,935.31 259.93,934.45 259.9,933.2 260.36,934.87 260.54,935.5 260.74,937.07 260.73,939.65 261.21,939.91 261.06,941.75 261.47,943.18 261.45,944.39 261.9,946.3 262.53,948.52 262.62,949.41 263.55,949.97 263.9,952.3 264.6,950.11 264.96,949.39 265.48,947.45 265.9,946.3 266.3,947.78 266.76,949.25 267.22,950.19 267.41,951.85 268.14,952.49 268.6,954.3 268.92,953.22 268.91,950.56 269.08,948.84 269.04,947.84 269.19,946.28 269.61,943.97 269.85,942.46 270.07,942.13 270.11,939.25 270.27,938.25 270.7,936.23 270.6,935.3 271.04,937.64 271.18,938.76 271.08,940.5 271.48,941.9 271.96,941.92 272.11,944.74 271.89,945.14 272.53,946.24 272.6,948.3 274.04,948.89 275.0,950.3 275.79,950.88 276.2,953.5 276.62,953.53 277.4,954.85 278.0,956.4 277.9,954.36 278.16,954.26 278.65,952.72 278.53,951.06 278.68,949.14 279.17,947.37 279.5,946.25 279.5,945.38 279.4,944.11 279.9,941.57 280.0,940.3 281.18,940.88 282.0,942.3 282.69,943.84 282.72,945.58 283.17,945.92 283.75,947.09 284.0,949.3 284.79,950.06 285.28,952.57 285.85,953.19 286.29,953.2 287.0,955.3 287.75,955.04 289.14,955.91 290.1,956.4 291.61,956.56 293.1,955.3 293.15,953.26 293.74,951.35 293.62,950.4 293.95,948.86 294.3,947.72 294.79,945.49 295.08,944.44 295.06,943.72 295.4,940.76 295.58,940.09 296.1,938.3 296.92,937.59 297.24,935.44 297.61,934.9 298.54,933.15 299.1,932.2 299.85,933.47 300.7,935.35 301.1,936.3 301.17,938.47 301.27,939.25 301.71,940.16 301.72,942.58 301.92,943.61 302.7,944.32 302.48,946.61 302.88,948.11 303.1,949.3 303.59,947.2 303.59,945.92 303.73,945.47 304.47,943.65 304.3,942.37 305.05,940.18 305.35,938.64 305.34,936.51 305.64,934.88 306.1,934.2 306.22,936.22 306.66,937.95 306.89,938.48 307.02,940.35 307.38,942.08 307.29,943.86 307.93,944.66 308.11,945.86 308.1,948.3 309.01,948.82 310.2,950.3 310.75,949.7 311.15,947.19 311.63,945.79 311.64,945.43 312.2,943.3 312.78,945.15 313.3,947.16 313.68,948.41 314.2,949.3 315.32,949.28 316.16,948.37 317.2,947.3 317.74,948.47 318.03,950.55 318.45,952.59 318.99,952.52 319.46,955.66 320.2,956.4 320.96,956.66 321.62,957.37 322.87,959.34 323.6,960.0 324.22,959.0 324.34,957.31 325.02,956.3 325.6,954.3 325.93,953.42 325.61,951.8 326.25,950.35 325.9,947.44 326.03,945.55 326.61,945.36 326.61,943.8 326.75,941.25 326.56,939.33 327.09,937.94 326.96,936.75 327.2,935.3 327.66,933.84 328.57,933.64 329.37,931.9 330.2,931.2 330.71,929.65 330.88,928.3 330.62,926.38 331.1,925.47 331.27,923.79 331.62,921.36 332.05,919.57 332.26,918.16 332.3,917.2 332.2,918.16 332.86,921.06 332.6,921.68 333.09,923.73 333.11,924.69 333.41,926.8 333.56,928.5 333.77,928.69 334.22,930.7 334.3,932.2 334.57,933.8 335.05,935.42 335.92,936.77 336.38,937.34 336.74,938.76 337.3,940.3 338.03,940.81 338.53,941.95 338.62,943.62 339.3,945.3 340.21,944.3 340.56,943.99 341.3,942.3 341.74,943.63 342.52,945.56 343.25,946.76 343.61,947.59 344.3,949.3 344.89,951.12 346.0,952.14 346.5,952.79 347.66,954.24 348.3,955.3 348.48,953.83 349.33,952.03 349.31,950.74 350.02,950.32 350.3,948.3 351.09,948.68 352.15,949.99 353.3,951.3 353.61,949.12 353.8,947.6 354.49,947.0 354.26,945.85 354.56,943.23 355.39,942.4 355.4,940.3 355.72,938.62 355.57,937.42 355.7,935.07 356.04,933.19 356.23,932.99 356.58,930.9 356.72,929.27 356.61,927.95 357.0,926.2 357.11,928.14 357.58,929.09 357.54,931.17 357.62,931.74 357.97,934.43 358.16,935.61 358.38,937.08 358.42,938.18 358.39,940.01 358.43,941.14 359.0,943.18 359.0,944.3 359.0,944.4 359.29,942.45 359.37,941.32 359.7,939.74 359.95,939.17 359.86,937.18 360.43,935.2 360.46,934.75 360.4,932.48 360.69,931.41 361.1,929.4 362.86,929.93 364.1,930.4 365.36,930.03 367.1,929.4 367.46,931.24 367.77,932.54 368.3,933.77 368.38,935.98 368.59,936.95 369.04,938.54 369.21,940.38 369.68,940.16 370.1,942.4 370.96,943.22 371.81,944.25 373.1,945.4 373.45,947.18 373.81,947.82 374.13,950.09 374.96,951.13 375.1,952.5 375.1,951.53 375.37,948.96 375.38,948.47 375.95,946.71 375.91,945.07 375.94,944.28 376.18,942.19 376.62,941.0 376.58,938.55 376.8,936.74 377.13,935.65 377.1,934.4 377.51,935.49 377.43,936.98 377.66,938.36 377.6,940.84 377.97,941.49 378.18,943.42 378.46,945.22 378.8,946.23 379.16,948.63 379.1,949.5 379.5,948.72 380.68,947.28 381.1,945.4 381.41,947.27 382.23,947.08 382.38,950.04 383.2,950.5 384.16,950.72 384.69,951.19 385.8,952.5 385.94,951.61 386.31,949.1 386.94,948.86 386.8,947.65 387.37,946.07 387.7,944.88 388.07,943.4 388.2,941.4 388.42,943.17 389.02,944.68 389.36,946.35 389.83,946.66 390.2,948.5 390.44,946.63 391.0,945.27 391.38,944.2 391.79,943.62 392.2,942.4 393.22,944.05 393.9,945.01 395.2,945.4 395.45,943.96 395.83,942.9 395.92,940.59 396.54,938.41 396.62,937.87 396.52,936.26 397.18,935.29 397.23,933.82 397.6,931.4 397.86,932.87 398.34,933.56 398.48,936.13 398.5,938.05 398.77,938.85 399.12,940.89 399.18,941.78 399.6,943.4 399.92,942.0 400.53,940.03 400.9,938.73 401.07,936.99 401.44,936.75 401.8,934.4 402.36,936.26 402.63,936.74 403.2,938.4 403.53,937.16 404.18,936.11 404.27,934.6 405.23,932.88 405.18,931.04 405.9,930.0 406.2,930.54 407.35,932.4 407.79,933.82 408.3,934.4 409.05,936.1 409.37,937.63 409.92,939.07 410.3,940.4 411.01,941.08 411.6,942.72 412.26,943.28 412.51,944.37 413.3,946.4 414.46,948.2 415.3,948.5 416.69,947.71 417.9,947.4 418.77,949.14 419.3,949.4 419.82,950.92 420.51,952.16 421.3,953.5 422.72,954.28 423.7,953.62 425.3,953.5 425.19,951.34 425.81,950.7 426.04,949.0 425.65,947.42 426.16,946.94 426.56,944.64 426.38,942.5 426.68,941.23 426.54,939.4 426.62,939.14 426.85,938.18 426.99,936.53 427.4,934.4 427.58,932.28 428.33,931.44 428.74,930.09 429.0,929.4 429.01,931.29 429.69,932.84 429.98,932.85 430.2,935.38 430.4,936.4 430.71,935.68 430.92,934.24 431.53,931.02 431.44,930.67 432.26,928.14 432.4,927.4 432.51,929.26 432.64,930.94 433.06,930.94 433.21,933.31 433.47,934.94 433.52,936.6 433.87,937.77 434.26,938.81 434.4,940.4 435.0,942.25 436.0,943.58 436.4,944.4 436.84,942.63 436.94,942.45 437.72,940.79 437.9,938.99 438.4,937.4 439.02,939.5 439.13,940.06 439.36,942.6 439.66,943.73 440.13,945.61 440.4,946.4 441.25,947.04 441.43,948.04 442.4,949.5 442.69,948.14 443.26,947.16 443.13,945.55 443.92,944.09 444.11,941.51 444.4,940.4 444.94,942.47 445.18,944.18 445.31,944.2 445.77,947.0 445.89,948.43 446.4,949.5 446.81,947.51 446.76,946.81 446.83,944.45 446.85,943.92 447.32,941.89 447.05,941.01 447.61,938.47 447.65,938.16 447.98,935.98 447.89,934.59 447.86,932.37 448.01,931.78 448.27,930.02 448.5,928.4 449.11,929.76 449.62,930.25 450.5,932.4 451.05,933.67 450.76,935.64 451.42,936.28 451.56,938.12 451.76,939.04 451.72,942.28 452.47,942.88 452.5,944.4 453.54,944.97 454.67,946.27 455.5,947.4 456.77,948.43 457.5,948.5 458.02,947.88 458.02,944.76 458.32,943.56 458.58,941.87 459.2,941.89 459.47,940.57 460.08,937.53 460.23,936.67 460.5,935.4 460.67,937.63 461.15,938.32 461.78,940.42 462.2,940.81 462.5,942.4 463.07,940.54 463.98,940.79 464.13,937.82 464.9,937.4 465.25,938.38 466.14,940.63 466.6,940.33 466.9,942.4 467.35,941.22 467.55,940.16 467.48,937.1 468.18,936.97 468.42,934.27 468.65,933.54 468.64,931.2 469.01,929.29 469.43,927.81 469.56,926.21 470.0,925.3 470.44,925.94 470.8,927.78 470.72,930.62 471.17,932.15 471.89,933.58 472.0,934.4 472.04,935.82 472.28,938.19 472.99,939.16 473.01,940.15 473.49,941.91 473.64,942.82 473.65,944.17 474.21,946.58 474.13,948.66 474.6,949.5 475.96,949.84 477.6,950.5 478.39,950.75 479.8,951.54 480.6,952.5 481.9,952.48 483.6,952.5 484.49,954.03 485.37,954.96 486.33,955.61 487.7,955.18 488.6,956.5 489.62,955.45 490.52,954.63 491.7,954.5 492.47,956.63 493.7,957.77 494.01,957.87 495.1,959.5 495.48,957.2 495.52,956.11 495.82,954.11 495.86,953.19 495.6,951.07 496.16,950.5 495.91,948.83 496.49,946.94 496.43,945.28 496.34,944.92 496.8,942.38 496.56,940.67 497.02,939.9 497.1,938.4 497.13,936.36 497.5,935.76 497.79,934.02 497.59,931.58 498.07,930.69 498.23,928.55 498.45,927.55 498.64,926.99 498.6,923.95 499.01,923.27 499.16,921.39 499.1,920.3 499.09,922.36 499.38,922.62 499.57,924.86 499.53,926.19 499.98,927.65 499.96,929.47 500.56,931.2 500.45,932.39 500.67,933.93 500.65,935.61 501.1,936.4 501.74,937.82 501.85,939.31 502.24,939.82 502.87,941.62 502.77,942.83 503.18,945.54 503.7,946.4 504.28,946.37 505.55,947.25 506.3,948.5 506.28,947.22 506.88,945.63 507.22,943.42 507.59,943.07 507.36,940.54 507.9,939.77 508.03,937.63 508.38,936.2 508.7,935.4 509.04,937.48 509.06,938.39 509.71,939.08 510.04,941.9 510.06,942.4 510.62,944.02 510.7,945.4 511.67,946.53 512.93,945.78 513.8,946.4 514.24,947.52 514.96,950.11 515.78,951.4 516.39,952.71 516.8,953.5 516.91,952.14 517.82,951.51 517.77,949.2 518.38,947.71 518.69,945.79 519.01,945.18 519.14,943.14 519.8,942.4 520.37,944.34 520.63,945.53 520.84,947.42 521.17,947.33 521.31,949.19 521.62,950.65 521.8,952.5 522.23,952.04 522.67,949.61 523.01,948.72 523.67,947.24 523.8,946.4 523.87,945.21 523.94,943.66 524.62,942.06 524.39,940.52 524.73,938.49 524.67,937.01 524.95,936.05 525.13,934.3 525.19,933.39 525.82,932.05 525.8,930.4 526.02,932.13 525.98,933.69 526.32,934.85 526.59,936.16 526.6,937.21 526.72,939.15 527.0,940.74 526.96,941.77 527.65,943.02 527.65,944.93 527.8,946.4 527.85,945.79 528.04,943.91 528.14,941.15 528.75,940.33 528.45,938.74 528.85,937.88 528.84,935.47 529.53,934.9 529.23,932.69 529.53,931.81 529.8,930.0 530.04,932.17 530.33,933.12 530.44,935.06 530.62,936.12 530.8,938.08 531.05,938.58 531.19,939.9 531.29,942.49 531.3,944.71 531.51,945.27 531.8,947.63 531.8,948.5 532.09,946.72 532.22,945.29 532.6,943.43 532.62,942.33 532.84,940.35 533.31,939.73 533.36,937.43 533.39,935.61 533.8,934.4 533.82,936.1 534.32,936.79 534.75,938.78 534.94,941.28 535.24,941.7 535.16,944.54 535.14,944.55 535.71,946.93 535.9,948.5 537.15,949.99 537.9,950.5 538.22,949.99 538.51,947.71 538.91,946.07 539.01,945.03 539.31,944.26 539.81,942.09 539.76,940.4 540.24,939.33 540.64,938.49 540.9,936.4 542.18,935.88 542.9,935.4 543.36,934.37 544.2,932.62 544.42,932.22 544.9,930.4 545.2,931.41 546.19,933.65 546.41,933.7 547.14,936.08 547.59,937.95 547.9,938.4 548.63,939.59 548.69,940.69 549.41,942.41 549.71,943.16 550.48,945.25 550.9,946.4 551.15,948.64 551.65,948.28 551.85,950.97 552.12,952.14 552.27,952.8 552.9,954.5 553.77,955.99 554.33,956.62 554.9,958.5 555.67,957.6 556.31,956.76 557.24,956.39 558.0,954.5 559.04,954.84 560.0,955.5 560.02,953.49 560.66,952.02 560.51,950.74 561.01,950.53 561.32,949.11 561.24,946.3 561.91,945.47 562.0,944.4 562.8,945.5 563.13,946.71 564.0,948.5 564.0,947.76 564.52,945.3 564.68,943.9 564.68,943.35 565.23,942.01 565.38,939.93 565.5,937.43 566.15,937.43 566.02,936.05 566.55,933.51 566.6,932.4 567.16,934.73 567.6,936.21 567.95,936.7 568.6,938.4 568.95,936.34 568.92,935.97 569.25,934.26 569.32,931.59 569.61,930.06 570.19,928.7 570.16,926.82 570.37,925.76 570.51,923.63 570.56,923.44 571.0,921.3 571.31,922.19 571.61,923.61 572.04,924.51 572.7,926.41 572.79,928.42 573.4,929.4 573.66,927.71 574.6,926.18 574.87,926.18 575.4,924.3 575.91,925.2 575.96,927.73 576.3,929.66 576.52,931.16 577.03,931.37 577.32,932.71 577.8,934.46 578.0,936.4 578.76,937.89 578.95,938.61 579.61,939.88 580.29,941.05 580.59,943.14 581.1,944.4 581.56,946.11 582.23,947.12 582.94,947.72 583.43,948.53 584.1,950.5 584.91,952.13 585.99,952.79 587.1,953.5 587.37,954.86 588.02,956.0 588.48,956.47 589.1,958.5 589.13,956.45 589.17,955.78 589.41,953.66 589.93,952.78 590.06,951.38 589.75,948.77 589.84,947.94 590.36,945.8 590.36,944.8 590.67,942.5 590.7,941.4 591.17,942.59 591.31,943.74 591.27,946.51 591.91,947.6 591.76,947.85 592.1,949.59 592.45,951.37 592.56,952.7 593.1,954.5 593.43,952.41 593.8,951.6 593.98,949.52 594.06,948.78 594.26,946.04 594.8,945.92 594.72,943.09 595.1,942.4 596.31,941.59 596.83,939.94 598.1,939.4 598.17,938.36 598.53,937.01 599.15,933.96 599.42,932.94 599.75,932.16 599.77,929.26 600.47,928.3 600.76,927.21 600.8,925.3 601.21,927.46 601.41,928.35 601.33,930.36 601.82,931.59 602.39,932.46 602.56,933.88 602.79,936.82 602.79,937.92 603.2,939.4 603.65,938.09 603.56,935.83 603.44,934.46 603.81,932.62 603.92,930.94 604.32,930.34 604.21,928.01 604.54,926.81 604.96,925.08 604.75,924.48 604.82,922.34 605.1,921.23 605.4,919.57 605.33,917.84 605.76,915.91 606.03,915.02 605.8,912.48 606.2,911.3 606.45,912.27 606.6,913.91 607.02,916.16 607.5,916.6 607.76,918.74 608.2,920.3 608.64,918.5 608.98,917.02 610.06,917.15 610.03,915.89 610.8,914.3 611.32,915.91 611.03,917.28 611.46,918.24 611.76,919.41 612.22,922.06 612.2,923.3 613.78,923.58 615.2,922.3 615.62,923.31 615.71,924.56 615.92,927.16 616.74,927.76 616.68,929.83 617.41,931.8 617.33,933.0 618.06,934.38 618.2,935.4 618.38,933.38 618.97,932.17 618.99,931.13 619.28,930.17 619.49,927.3 619.97,926.9 620.41,925.58 620.75,924.56 620.8,922.3 621.21,923.65 621.43,924.64 622.1,925.59 622.58,927.09 622.85,929.9 623.3,930.4 623.85,928.57 624.86,927.84 625.7,927.4 626.19,928.06 626.62,931.15 626.94,931.93 626.99,933.91 627.49,935.04 627.74,936.62 628.29,938.88 628.79,939.24 628.9,941.4 629.38,940.05 630.14,938.63 630.52,936.9 631.3,936.4 632.19,937.33 633.3,938.4 633.72,937.6 633.79,936.17 633.98,934.0 634.02,931.45 634.07,930.9 633.98,929.29 634.51,927.59 634.46,925.72 634.41,925.23 634.35,922.44 634.87,921.37 634.65,920.21 634.96,918.53 635.12,916.89 635.3,915.3 635.94,916.36 636.27,917.22 637.33,919.14 637.7,920.3 637.7,919.4 638.02,916.46 638.43,915.19 638.64,914.18 638.72,912.66 638.89,911.0 639.41,908.66 639.54,907.1 639.79,906.96 640.09,905.14 640.3,903.2 641.05,903.73 641.79,906.04 641.86,907.45 642.64,907.49 643.3,909.3 644.61,910.08 645.53,909.98 646.4,911.3 646.8,908.95 646.71,907.96 646.82,906.81 647.17,904.72 647.71,903.39 648.05,902.19 648.28,900.53 648.54,899.53 648.33,897.75 648.67,896.23 649.0,894.2 649.37,896.32 649.3,897.05 649.93,899.62 650.18,899.53 650.37,901.17 650.6,903.97 650.61,905.73 651.1,906.5 652.21,907.06 653.1,908.5 653.42,909.9 654.3,911.65 654.37,912.14 654.87,915.04 655.41,916.1 656.1,917.5 656.77,916.84 657.63,914.86 658.5,914.5 658.9,913.01 658.97,911.94 659.3,908.96 659.12,907.65 659.39,907.39 659.75,904.33 659.55,904.18 660.03,901.86 660.1,900.5 660.35,898.32 660.84,897.17 661.12,896.0 660.91,893.93 661.26,893.38 661.75,890.28 661.77,889.28 662.21,888.11 662.5,886.4 662.65,884.68 662.65,883.63 663.07,881.17 663.36,881.45 663.34,878.48 663.94,877.26 663.92,876.21 664.14,874.88 664.5,873.3 664.81,875.58 665.37,875.37 665.4,878.15 665.88,879.62 666.02,880.82 666.15,881.64 666.7,884.16 667.07,885.27 667.1,886.4 667.18,888.27 667.64,889.22 667.78,890.33 667.93,891.83 668.1,893.4 667.98,891.6 668.28,891.26 668.52,888.64 668.52,886.89 668.72,885.21 668.66,885.02 669.07,882.75 669.28,880.99 669.19,879.06 669.41,877.98 669.81,876.91 670.08,875.03 670.21,873.96 670.1,872.3 670.1,873.23 670.65,876.2 670.76,877.33 671.06,879.01 671.09,879.83 671.84,880.97 671.7,882.03 672.1,884.4 672.16,885.48 672.75,886.89 672.83,888.36 673.21,891.06 673.5,891.35 673.82,894.23 674.0,894.14 674.2,896.4 674.99,895.88 675.3,893.35 675.81,892.87 676.83,891.85 677.2,890.4 677.64,888.3 677.47,887.69 677.85,885.49 678.05,883.79 677.86,882.35 678.04,881.16 678.4,879.34 678.74,877.33 678.85,875.32 679.31,874.73 679.54,872.24 679.5,871.86 679.51,869.15 679.8,868.3 679.82,869.22 680.4,870.7 680.66,872.86 680.71,874.73 680.94,876.42 681.19,877.4 681.5,878.83 681.7,881.31 681.8,882.4 682.37,880.61 682.76,880.37 682.97,877.67 683.41,877.42 683.58,874.3 684.19,874.02 684.6,872.3 685.21,873.56 685.79,874.84 686.1,876.1 686.12,877.69 686.59,879.87 687.33,880.8 688.01,882.65 688.2,884.4 688.32,882.49 689.01,882.49 689.0,879.55 689.7,878.6 690.16,877.73 690.2,876.4 690.47,874.65 690.75,873.39 690.65,872.72 690.7,870.94 690.86,869.32 691.25,868.24 691.23,866.23 691.62,865.4 692.13,863.41 691.88,861.26 692.09,860.12 692.25,858.24 692.6,857.3 693.28,856.26 693.54,855.59 694.02,853.53 694.51,852.75 695.46,850.38 695.92,850.08 696.3,848.2 696.42,849.41 696.79,851.93 696.85,853.07 697.36,854.17 697.6,856.45 697.63,857.97 697.97,859.29 698.3,860.3 698.7,861.28 698.88,864.3 698.72,864.11 698.79,867.37 698.91,868.81 699.18,870.05 699.33,870.59 699.86,872.0 699.84,875.04 700.25,876.53 700.3,877.4 700.87,878.13 700.71,881.07 701.27,881.28 701.45,883.2 701.69,884.55 701.73,887.71 702.3,888.4 702.86,887.75 703.41,885.71 704.3,884.4 704.48,885.6 704.91,887.4 705.29,888.83 705.9,889.04 706.21,891.06 706.7,892.4 707.13,890.67 706.89,890.33 707.48,888.45 707.29,886.0 707.47,884.35 707.52,883.69 707.92,882.32 708.07,879.88 708.45,879.58 708.54,877.94 708.7,876.4 709.15,878.6 709.59,879.46 709.64,880.07 709.98,882.58 710.3,882.86 710.7,884.4 711.51,883.09 712.73,882.18 713.3,882.4 713.51,884.75 713.44,885.76 713.65,886.67 713.69,888.02 714.22,890.8 714.4,891.06 714.42,893.13 714.53,895.12 714.48,897.46 714.43,898.63 715.08,899.78 715.07,902.23 715.0,903.15 715.3,904.5 715.87,905.68 716.27,907.11 716.58,908.9 717.09,909.78 717.4,911.5 718.14,912.71 718.57,913.97 719.4,914.9 719.91,914.29 720.68,912.6 721.36,910.81 722.0,909.5 721.99,907.4 722.57,906.64 722.48,905.18 722.81,903.21 722.58,902.8 722.91,901.02 723.29,900.02 723.47,897.03 723.4,896.4 723.51,895.54 723.95,892.81 723.74,891.59 723.89,890.32 724.49,889.17 724.46,886.93 724.61,887.11 724.97,884.67 725.02,883.85 725.37,881.22 725.4,880.4 725.81,878.75 726.01,877.11 726.22,875.88 726.53,873.89 726.72,873.48 726.93,871.36 727.63,870.12 727.69,868.66 728.3,866.97 728.4,866.3 728.98,865.45 729.22,863.16 730.08,862.01 730.4,860.3 731.07,858.48 731.87,858.06 732.78,856.93 733.4,856.3 733.84,855.22 734.59,853.33 734.83,852.39 735.65,850.34 736.18,849.93 736.4,848.2 736.94,849.7 737.54,849.83 738.41,851.58 738.9,852.99 739.5,854.2 739.99,856.19 739.72,857.42 740.23,858.71 740.5,860.3 740.98,858.68 741.03,858.08 741.28,855.89 741.6,855.03 741.97,853.41 742.08,850.69 742.52,850.15 742.84,849.08 742.73,846.62 742.97,846.24 743.5,844.2 743.66,842.06 744.45,841.52 744.43,840.33 745.23,838.57 745.5,837.2 746.57,836.88 748.12,836.02 749.5,835.2 750.08,837.34 750.29,837.7 750.26,839.95 750.35,842.37 750.79,842.63 751.1,844.19 751.5,846.2 752.16,847.76 752.4,848.97 752.56,850.21 753.5,852.57 753.94,853.04 753.99,854.13 754.63,856.16 755.03,857.82 755.5,859.3 755.82,857.54 756.21,855.73 756.55,854.85 756.3,852.9 756.85,851.55 757.1,850.2 757.48,851.33 757.65,853.62 758.0,854.91 758.65,856.14 758.79,858.2 759.12,859.54 759.5,860.3 759.48,861.61 760.07,862.35 760.45,863.82 760.53,865.44 760.97,867.55 761.14,868.87 761.2,870.3 761.5,869.17 761.48,866.89 762.0,865.33 762.25,863.99 761.96,862.35 762.57,862.44 762.55,860.47 762.65,859.48 763.0,857.3 763.33,858.12 763.18,860.54 763.39,862.24 763.77,862.6 764.16,864.2 764.37,865.34 764.8,867.1 764.98,868.23 765.0,870.3 765.5,869.66 765.58,866.46 765.9,866.05 766.13,864.38 766.38,862.74 767.09,861.17 767.38,859.11 767.6,858.3 767.94,856.18 768.14,856.31 768.29,854.02 768.05,852.25 768.46,851.08 768.72,848.91 768.6,848.2 769.39,850.19 770.26,850.94 771.0,852.2 770.98,850.0 771.31,849.8 771.87,847.04 772.14,845.14 772.17,845.26 772.24,843.67 772.65,840.5 772.68,839.66 773.0,838.2 773.52,837.64 774.14,836.72 775.0,835.2 775.08,835.92 775.44,837.47 775.63,840.22 775.86,841.13 775.72,842.72 775.96,844.46 776.18,845.84 776.6,847.2 776.71,845.46 777.1,843.57 777.0,843.46 777.3,841.78 777.82,839.61 777.59,837.41 778.23,835.94 778.2,835.18 778.17,833.55 778.6,832.1 778.65,833.55 779.1,834.64 779.17,836.09 779.42,836.98 779.69,839.71 780.1,841.13 780.06,842.61 780.6,843.2 780.79,842.25 781.03,840.6 781.01,839.24 781.16,836.9 781.28,835.66 781.76,834.01 782.18,832.17 782.19,830.97 782.39,830.49 782.65,827.72 782.56,827.22 783.2,824.74 783.1,824.1 783.42,825.96 783.79,826.84 784.04,828.57 784.35,829.27 784.61,831.5 784.54,832.43 784.7,835.11 785.1,836.2 785.81,834.22 786.21,832.85 786.72,831.65 787.4,831.66 788.4,829.97 788.7,828.1 789.69,827.1 790.87,826.83 791.7,825.1 792.37,824.15 792.56,822.93 793.47,822.02 793.54,820.69 794.3,819.1 794.37,819.94 794.89,822.3 794.91,822.78 795.12,825.66 795.32,826.76 795.43,828.31 795.44,829.09 795.74,831.17 795.7,832.1 796.21,833.18 796.55,835.04 796.82,835.74 797.12,838.39 796.98,839.92 797.25,840.21 797.7,842.2 799.17,842.23 800.7,843.2 801.21,845.27 801.84,846.25 802.19,847.71 802.94,848.86 803.55,850.45 803.8,851.2 804.12,851.84 804.64,854.58 804.83,855.53 805.5,857.28 805.38,858.12 805.76,858.82 806.61,860.77 806.8,862.3 807.16,863.63 807.3,864.6 807.61,867.15 808.07,867.57 808.05,868.94 808.72,870.66 809.0,872.72 808.97,873.91 809.22,875.57 809.8,876.4 810.04,877.42 810.93,879.01 810.92,881.39 811.58,882.82 811.88,883.54 812.64,884.98 812.8,886.4 813.89,885.84 814.4,886.4 814.87,884.23 814.95,882.37 815.01,882.5 815.44,880.69 815.58,878.3 815.76,877.09 816.48,875.46 816.46,874.64 816.8,872.3 817.32,871.17 817.12,869.67 817.62,868.84 817.86,866.88 818.31,864.93 818.53,864.05 818.8,862.3 819.29,860.78 819.22,860.13 819.28,858.37 819.91,856.35 820.02,855.19 820.53,853.64 820.7,850.88 820.8,850.2 821.5,848.55 822.67,848.9 823.2,847.2 823.29,845.93 823.85,843.53 824.04,843.36 824.48,841.09 824.86,839.68 825.03,838.49 825.3,837.2 825.87,836.02 826.05,834.63 826.09,833.7 826.57,831.77 826.6,829.38 827.06,829.13 827.3,827.1 827.91,828.34 827.95,830.16 828.83,831.04 829.18,832.57 829.35,833.88 829.9,836.2 830.78,834.99 831.9,834.2 832.47,836.6 832.28,837.0 833.02,838.37 832.94,840.37 833.09,841.63 833.55,843.42 833.9,845.2 835.18,845.45 835.72,847.27 836.9,847.2 837.62,849.06 838.48,850.2 839.04,850.32 839.9,852.2 841.05,853.15 841.9,854.2 842.14,856.09 842.45,856.97 842.42,859.71 842.72,860.16 842.98,861.7 843.26,862.89 843.3,865.3 843.82,863.91 843.86,863.07 844.13,860.3 844.34,859.34 845.08,858.06 845.2,856.78 845.34,854.37 845.9,853.2 846.22,852.6 846.45,850.66 846.76,848.68 847.1,847.86 846.97,845.78 847.48,844.26 847.34,843.76 847.79,841.68 848.0,840.2 848.27,839.57 848.11,837.21 848.24,835.99 848.67,835.43 848.93,833.59 849.0,832.1 849.61,831.23 850.2,830.72 851.0,829.1 852.17,829.04 852.79,828.08 854.0,827.1 854.35,828.69 854.64,830.99 854.75,832.43 854.89,834.12 854.78,835.4 855.32,836.82 855.4,838.2 855.92,836.17 856.76,836.28 857.21,833.93 858.0,833.2 858.13,831.06 858.71,831.23 859.08,828.72 859.32,826.79 859.7,825.84 859.5,824.97 859.88,822.93 860.14,821.82 860.73,821.06 861.0,819.1 861.12,821.09 861.57,821.4 862.28,823.01 862.5,824.82 863.0,826.1 863.31,825.43 863.79,824.31 864.63,822.57 864.64,821.8 865.4,820.1 865.77,818.71 866.65,816.51 867.43,816.3 868.0,814.5 868.35,815.69 868.61,817.4 868.74,819.28 869.5,820.53 869.78,821.05 870.09,821.96 870.1,824.1 870.69,824.84 871.27,827.23 872.03,828.22 872.41,829.14 873.1,831.1 873.42,832.1 873.67,834.3 874.23,835.15 874.42,837.02 874.79,837.62 875.39,839.79 876.01,841.26 876.1,842.2 876.7,844.46 876.9,845.6 876.84,846.17 877.14,848.85 877.9,849.93 878.1,851.2 878.71,851.96 879.4,853.49 880.64,853.93 881.1,855.3 881.58,855.97 882.51,858.52 883.53,858.97 884.1,860.3 884.53,860.76 885.23,863.13 886.08,864.68 887.01,865.5 887.42,866.71 888.1,867.3 888.46,867.9 889.31,869.91 889.68,870.75 890.16,873.24 891.15,874.6 891.9,874.99 892.2,876.4 893.02,877.59 893.75,879.81 894.02,879.72 894.75,882.15 895.6,883.4 895.69,881.01 896.12,880.89 896.06,878.05 896.47,877.42 896.14,875.53 896.63,875.03 896.71,873.08 896.7,870.86 897.28,869.6 897.2,868.3 897.13,866.96 897.31,864.74 897.67,863.93 897.95,862.64 898.0,859.98 898.33,858.45 898.35,857.56 898.64,856.62 898.54,854.99 898.98,853.17 898.82,852.44 899.2,850.2 899.49,847.84 899.5,847.93 899.72,845.29 900.29,844.5 900.42,842.78 900.29,840.04 900.8,839.2 902.29,840.74 903.2,841.2 903.17,839.0 903.54,839.2 903.78,837.35 904.46,835.9 904.7,833.84 904.49,832.01 905.1,830.77 905.2,830.1 905.82,829.14 905.68,827.99 906.0,826.12 906.3,825.28 907.1,824.18 907.2,822.1 907.3,824.13 908.03,825.48 908.4,826.52 908.86,828.24 909.2,829.1 909.19,826.84 909.71,825.8 909.86,823.83 910.31,822.4 910.6,822.36 910.61,819.66 910.97,818.35 911.08,816.72 911.65,816.04 911.6,814.5 911.72,815.33 912.16,818.25 912.44,818.46 912.36,820.38 912.81,821.67 912.92,824.72 913.23,824.53 913.02,826.28 913.61,828.72 913.7,830.1 914.11,828.52 914.44,827.3 914.99,826.35 915.44,824.63 915.95,823.21 916.23,820.26 916.61,820.23 916.9,818.1 917.08,820.34 917.15,822.01 917.53,823.14 917.64,823.96 917.92,825.56 917.99,827.33 918.74,829.27 918.94,831.02 918.9,832.1 919.4,834.38 919.65,834.47 919.65,836.1 919.81,837.17 920.63,839.8 920.6,840.91 921.16,842.51 921.3,843.2 921.85,844.63 921.81,846.54 922.31,847.55 922.72,848.77 923.45,849.47 923.57,851.72 923.95,853.61 924.3,854.2 924.74,856.22 925.41,857.59 925.55,857.51 926.3,859.3 926.52,858.76 926.71,856.32 927.48,856.36 927.7,854.2 927.77,855.44 928.35,857.24 928.65,858.71 928.62,859.16 928.75,861.29 929.3,862.3 929.88,862.87 931.08,864.56 931.6,865.58 932.3,866.3 933.39,866.98 934.25,866.18 935.4,867.3 936.34,867.43 937.72,868.66 939.0,870.3 939.07,868.86 939.88,867.78 939.76,866.5 940.01,863.87 940.38,862.99 940.91,861.63 941.1,860.3 941.4,858.06 941.69,857.0 941.8,854.93 941.96,853.77 942.15,853.3 942.2,850.85 941.97,849.18 942.68,847.62 942.7,846.88 942.86,844.64 942.72,842.98 943.1,842.2 943.64,840.48 943.69,839.3 943.68,836.88 943.81,836.78 944.13,835.47 944.52,833.53 944.63,832.13 945.1,830.1 945.95,829.19 947.11,828.07 948.1,828.1 948.62,827.3 949.3,825.22 950.1,824.1 950.76,825.1 950.92,826.59 951.53,828.36 952.1,830.1 952.56,828.67 953.07,826.54 953.32,826.58 953.44,823.75 953.94,822.53 954.33,822.23 954.48,819.79 955.1,819.1 955.27,820.07 955.3,822.1 955.42,822.99 955.74,825.26 956.27,826.97 955.93,827.93 956.52,830.09 956.78,832.37 956.95,832.39 957.18,834.69 957.1,836.2 957.38,834.26 958.19,832.98 958.15,831.73 959.09,830.73 959.41,828.68 959.7,828.1 960.15,829.19 960.48,831.23 961.06,831.68 961.91,833.75 962.1,835.2 962.42,835.65 963.23,837.89 963.36,839.15 964.31,840.6 964.52,841.86 965.2,843.2 965.64,844.85 965.74,846.5 966.59,847.76 966.91,848.46 967.32,849.5 967.29,851.63 968.07,852.07 968.2,854.2 968.46,854.81 969.02,856.44 969.3,858.98 969.96,860.76 970.28,861.74 970.48,863.66 971.2,864.3 971.31,865.72 971.75,868.03 972.01,869.58 972.36,869.64 972.76,871.08 973.14,873.0 972.94,875.38 973.27,875.84 973.56,877.78 973.64,878.71 974.2,880.4 974.27,882.44 974.45,883.5 974.87,884.68 975.33,886.6 975.35,887.21 975.61,889.96 975.9,889.93 976.4,892.18 976.89,892.69 976.77,894.35 977.2,896.4 977.63,897.83 977.9,900.12 978.42,901.59 978.97,902.03 979.34,903.8 979.18,906.22 979.59,906.12 980.2,908.5 980.79,909.32 981.92,911.57 982.31,912.15 983.29,913.85 983.8,914.5 984.19,913.09 984.17,911.18 984.79,910.37 985.18,909.5 985.58,906.8 985.35,906.64 985.9,904.5 986.14,902.42 986.42,901.04 986.34,899.73 986.71,898.79 986.64,897.39 987.17,895.4 987.4,894.48 987.21,892.39 987.81,891.3 987.99,888.84 988.38,888.42 988.3,886.4 988.39,884.77 989.07,882.86 989.0,882.71 989.54,879.89 989.69,878.61 989.9,877.83 989.83,875.34 990.13,873.91 990.27,872.17 990.74,871.17 990.8,869.96 991.3,868.3 991.82,866.93 991.71,865.65 992.01,863.19 992.29,861.4 992.66,860.15 992.72,860.08 993.21,858.35 993.39,856.48 993.67,855.56 993.62,853.7 993.93,851.27 994.3,850.2 994.82,848.93 995.16,847.97 995.34,845.29 995.32,844.44 996.07,842.52 996.01,840.58 996.39,840.37 996.62,838.08 997.1,837.49 997.87,834.79 997.9,834.2 997.87,836.55 998.58,836.71 998.4,838.95 998.59,840.34 998.89,841.62 998.83,842.88 999.3,845.2 1000.1,843.8 1001.37,844.22 1002.3,843.2 1002.76,845.13 1003.64,845.72 1004.1,846.84 1004.96,848.91 1005.3,850.2 1005.65,851.0 1006.66,852.83 1007.29,853.97 1007.96,856.42 1008.4,857.3 1008.76,858.86 1009.41,860.47 1010.38,862.02 1010.64,862.17 1011.4,864.3 1012.0,865.75 1012.18,866.41 1012.95,867.59 1013.48,869.17 1013.76,870.83 1014.4,872.3 1014.82,873.92 1014.92,875.14 1015.43,875.58 1016.08,877.52 1016.4,878.4 1017.47,878.12 1018.4,876.4 1018.57,877.49 1019.18,878.83 1019.22,880.19 1019.93,882.7 1020.24,884.37 1020.63,884.63 1020.8,886.4 1021.89,887.13 1022.93,887.26 1024.4,887.4 1024.65,887.92 1025.41,889.44 1026.16,892.08 1026.38,892.19 1026.67,894.08 1027.4,895.4 1027.71,893.58 1028.13,892.31 1028.47,889.98 1028.34,888.91 1028.89,887.1 1029.3,885.47 1029.5,884.4 1029.57,882.89 1029.99,881.96 1029.97,879.91 1030.48,879.33 1030.48,876.37 1030.56,875.86 1030.64,873.32 1031.24,873.43 1030.91,871.17 1031.39,869.4 1031.5,868.3 1031.41,867.24 1032.0,865.17 1031.75,863.58 1031.92,863.1 1032.06,860.38 1032.66,858.59 1032.43,856.97 1032.63,856.29 1033.2,854.13 1032.97,853.69 1033.29,851.42 1033.5,850.2 1034.02,848.49 1035.28,847.01 1035.61,846.88 1036.5,845.2 1037.11,844.55 1037.23,843.27 1037.69,840.69 1037.98,840.09 1038.52,837.66 1038.57,837.77 1038.89,836.14 1039.5,834.2 1040.4,833.25 1041.5,833.2 1041.64,834.57 1042.37,835.42 1042.57,837.16 1042.45,839.35 1042.83,839.78 1043.17,842.35 1043.5,843.2 1044.22,844.58 1044.21,846.17 1045.06,847.67 1045.5,848.2 1046.52,848.89 1047.21,850.77 1047.61,850.96 1048.5,852.2 1048.95,853.21 1049.48,854.05 1049.91,856.76 1050.6,857.3 1051.55,858.21 1052.83,859.09 1053.6,859.3 1054.05,861.26 1054.98,862.58 1055.54,863.36 1056.19,863.66 1056.6,865.3 1057.29,866.49 1058.0,867.44 1058.42,869.21 1059.19,870.62 1059.6,872.3 1060.41,874.15 1061.03,874.09 1061.66,876.4 1062.11,877.45 1062.6,878.4 1063.83,878.57 1065.6,877.4 1066.63,876.29 1067.5,875.84 1068.6,874.3 1068.99,873.41 1068.87,870.9 1069.12,868.91 1069.39,867.22 1069.89,866.03 1069.68,864.19 1070.3,862.87 1070.36,861.68 1070.6,860.3 1071.2,859.77 1071.32,857.84 1072.09,856.2 1072.51,855.32 1072.57,854.22 1073.1,852.2 1073.66,850.09 1074.19,849.99 1074.67,847.97 1075.13,847.28 1075.7,845.2 1076.8,843.67 1077.7,843.2 1078.14,844.35 1079.02,846.35 1079.03,848.15 1079.5,848.96 1080.3,850.2 1080.56,849.09 1080.86,846.47 1081.21,846.28 1081.67,843.94 1081.63,843.14 1082.28,840.69 1082.63,840.59 1082.7,838.2 1083.14,839.39 1083.79,841.77 1083.96,842.04 1084.52,844.22 1085.1,845.2 1085.31,843.91 1085.9,842.75 1086.09,841.9 1087.0,839.81 1087.28,837.76 1087.75,837.04 1088.06,836.24 1088.3,834.2 1088.52,836.34 1088.72,836.09 1089.2,839.04 1089.74,840.52 1089.81,841.85 1090.14,841.81 1090.48,844.37 1090.7,845.2 1091.43,846.63 1092.11,847.3 1092.98,848.97 1093.8,850.2 1094.18,850.89 1094.3,852.75 1095.13,854.91 1095.24,855.44 1095.8,857.3 1097.11,856.22 1098.4,856.3 1098.65,858.57 1098.59,859.55 1099.09,861.39 1099.27,862.86 1099.19,864.64 1099.76,864.77 1099.96,867.02 1099.63,867.89 1100.24,870.54 1100.03,871.69 1100.51,874.2 1100.52,875.33 1100.8,876.4 1100.93,877.29 1101.17,879.1 1101.73,880.33 1101.74,881.61 1101.98,882.99 1102.4,884.98 1102.8,886.4 1102.88,887.83 1103.31,890.18 1103.61,891.59 1103.87,891.71 1104.22,893.08 1104.24,894.41 1104.83,897.49 1104.92,897.85 1105.21,899.31 1105.64,900.84 1105.8,902.5 1106.34,904.16 1107.34,903.61 1108.26,905.91 1108.8,906.5 1109.21,908.07 1110.05,908.99 1110.26,910.14 1110.83,912.13 1111.44,913.98 1111.8,914.5 1112.36,915.26 1113.56,917.02 1114.18,917.82 1114.9,918.5 1115.28,920.52 1115.89,920.76 1116.15,921.47 1117.06,923.92 1117.3,924.6 1117.88,922.95 1119.02,921.93 1119.9,920.6 1119.94,919.8 1120.06,917.63 1120.53,916.31 1120.39,914.25 1120.46,913.23 1120.82,911.09 1120.7,909.81 1120.82,909.24 1121.05,906.58 1121.05,906.05 1121.07,904.3 1121.11,901.9 1121.26,901.49 1121.44,898.94 1121.51,897.49 1121.9,896.4 1122.19,895.26 1122.45,894.13 1122.39,892.54 1122.27,891.01 1122.63,888.15 1122.97,887.81 1122.91,884.9 1123.35,884.55 1123.34,883.41 1123.16,880.22 1123.37,878.62 1123.87,878.17 1123.9,876.4 1123.94,874.33 1124.25,873.67 1124.82,872.85 1124.91,871.41 1125.22,868.89 1125.39,867.14 1126.09,867.05 1126.21,864.11 1126.16,862.6 1126.54,862.19 1126.9,860.3 1126.94,858.97 1127.61,856.69 1127.76,856.66 1128.15,854.66 1128.63,853.54 1128.6,851.79 1129.27,851.23 1129.3,849.2 1129.87,847.91 1129.73,845.82 1130.19,845.34 1130.28,844.14 1130.9,842.2 1131.57,843.73 1131.6,845.74 1132.35,847.0 1132.9,848.2 1133.54,847.36 1134.05,846.53 1134.97,845.22 1135.3,843.2 1136.04,844.12 1136.58,845.28 1137.57,847.48 1138.0,848.2 1138.92,850.03 1139.79,851.04 1140.14,852.41 1141.0,853.2 1141.46,854.82 1142.0,856.68 1142.79,857.06 1143.65,858.13 1144.0,860.3 1144.69,862.19 1144.65,863.63 1145.33,865.32 1145.77,865.88 1146.4,866.7 1146.74,868.16 1147.0,870.3 1147.24,870.99 1147.97,872.97 1148.26,874.02 1148.64,876.12 1148.63,877.23 1149.38,878.11 1149.72,879.61 1150.0,881.4 1150.92,882.82 1152.27,883.63 1153.0,883.4 1153.46,885.03 1154.19,886.87 1154.47,888.55 1154.94,890.21 1155.48,890.21 1156.0,892.4 1157.18,892.76 1158.17,893.6 1159.1,895.4 1160.59,895.14 1161.64,894.07 1162.7,894.4 1162.95,892.68 1162.88,891.97 1162.92,889.86 1163.12,889.03 1163.77,886.06 1163.68,885.34 1164.0,884.31 1163.94,883.18 1164.01,880.25 1164.56,878.72 1164.34,877.9 1164.7,876.4 1164.87,874.34 1165.49,873.44 1165.67,871.58 1166.01,870.08 1166.28,869.33 1166.58,868.15 1166.65,866.27 1167.05,864.65 1167.1,863.3 1167.46,862.64 1168.48,860.83 1169.05,858.62 1169.48,858.28 1170.1,856.3 1170.98,855.84 1171.1,854.19 1171.93,852.47 1172.3,850.77 1173.1,850.2 1173.42,848.85 1173.63,847.3 1174.13,846.67 1174.49,844.26 1175.0,843.3 1175.1,842.2 1175.98,844.47 1176.08,845.15 1177.18,846.19 1177.53,847.46 1178.1,849.2 1178.08,850.06 1178.4,851.59 1178.97,853.48 1179.42,855.08 1179.33,856.95 1179.76,857.6 1180.16,859.22 1180.2,860.3 1181.62,860.99 1183.2,861.3 1183.58,863.64 1184.05,865.15 1184.44,864.92 1185.23,866.77 1185.7,868.11 1186.2,870.3 1187.0,872.02 1187.51,873.91 1188.3,874.88 1188.73,875.08 1189.2,877.4 1189.3,878.64 1190.23,879.81 1190.37,880.64 1190.65,883.62 1191.13,884.86 1191.16,885.11 1191.63,887.62 1192.2,888.4 1192.56,890.38 1193.26,891.48 1194.01,891.68 1194.88,893.03 1195.2,894.4 1195.99,894.97 1196.73,897.97 1196.97,898.89 1197.73,899.17 1198.45,901.44 1199.2,902.5 1200.06,904.82 1200.67,905.58 1201.05,906.18 1201.68,908.31 1202.04,910.36 1202.57,910.43 1203.3,912.5 1203.81,913.07 1204.79,915.44 1205.26,916.11 1206.22,917.41 1206.9,918.5 1207.03,917.06 1206.97,914.67 1207.4,913.47 1207.78,911.96 1208.0,910.44 1207.74,909.35 1208.1,907.57 1208.51,905.85 1208.63,905.43 1208.68,903.32 1209.15,901.98 1208.88,899.5 1209.01,898.45 1209.19,897.51 1209.57,895.37 1209.8,894.2 1210.04,893.48 1210.11,890.56 1210.38,889.36 1210.97,888.54 1210.91,886.06 1210.91,884.47 1211.62,883.91 1211.44,882.36 1211.61,880.64 1212.01,878.41 1212.48,878.01 1212.58,875.51 1212.8,874.6 1213.19,872.91 1213.48,870.72 1213.91,869.0 1213.79,868.14 1214.07,866.01 1214.65,866.07 1214.73,863.19 1215.22,861.54 1215.35,860.81 1215.7,858.9 1216.14,856.96 1216.41,856.34 1217.44,855.71 1217.39,853.64 1218.11,851.77 1218.6,851.0 1219.08,849.64 1219.54,847.93 1219.99,847.52 1220.08,844.95 1220.47,843.58 1220.96,843.26 1221.27,842.41 1221.6,840.2 1221.66,842.13 1222.44,842.59 1222.48,844.03 1222.96,846.77 1223.15,848.27 1223.49,849.84 1223.9,851.0 1224.14,853.26 1224.61,852.91 1224.77,855.61 1225.6,856.85 1225.55,858.67 1226.26,858.71 1226.5,860.8 1226.85,862.59 1227.04,862.94 1227.66,865.92 1228.46,866.41 1228.83,868.73 1229.0,869.7 1229.55,871.33 1229.95,872.89 1230.27,874.22 1230.15,875.6 1230.66,876.74 1231.0,878.5 1231.2,877.14 1231.61,875.24 1231.71,874.37 1232.12,872.83 1232.4,871.6 1232.92,872.52 1233.25,874.16 1233.81,876.42 1234.24,877.56 1234.33,879.78 1234.9,880.5 1235.31,881.58 1235.57,882.92 1236.23,884.97 1236.49,886.12 1236.73,886.91 1237.3,888.3 1237.53,889.27 1237.85,891.39 1238.39,891.72 1238.41,894.08 1238.98,895.2 1239.2,896.2 1240.28,896.05 1241.2,895.2 1241.41,895.95 1241.8,897.44 1242.51,899.87 1242.67,902.21 1243.1,902.43 1243.16,903.75 1243.6,906.0 1244.19,907.73 1244.43,908.36 1244.71,909.88 1245.39,911.91 1245.89,913.16 1246.1,913.8 1246.49,915.06 1246.85,917.45 1247.2,917.38 1247.68,920.16 1248.45,920.5 1248.88,922.9 1249.1,923.6 1250.51,923.55 1252.0,924.6 1252.89,925.35 1253.22,927.28 1254.14,927.34 1254.9,928.5 1255.56,926.83 1255.81,925.85 1256.63,923.94 1257.3,923.6 1257.38,922.5 1257.52,920.78 1257.85,918.33 1257.65,917.63 1258.17,915.38 1258.08,914.82 1258.67,912.13 1258.63,911.17 1258.63,908.64 1258.9,907.9 1258.92,906.59 1259.21,904.78 1259.05,902.68 1259.29,901.48 1259.45,900.79 1259.43,899.38 1259.63,897.58 1259.76,895.52 1259.97,892.97 1260.34,892.79 1260.15,891.16 1260.41,889.98 1260.28,887.32 1260.51,886.19 1260.8,884.4 1261.11,883.47 1261.11,881.11 1261.41,879.06 1261.23,878.68 1261.48,877.57 1261.41,875.07 1261.63,872.7 1261.7,871.32 1262.01,870.39 1262.23,868.59 1262.49,867.46 1262.8,865.29 1262.66,864.33 1262.8,862.8 1262.95,861.93 1263.07,860.44 1263.38,857.94 1263.76,856.83 1263.78,854.44 1264.41,853.43 1264.12,852.43 1264.6,850.31 1264.8,849.1 1265.28,848.34 1265.86,846.19 1266.81,844.71 1267.06,842.97 1267.7,842.2 1268.09,840.97 1268.25,838.99 1268.41,838.16 1268.83,836.71 1269.07,835.01 1269.15,832.56 1270.0,831.87 1270.12,830.02 1270.3,828.5 1270.67,829.26 1270.87,831.36 1271.57,831.97 1271.92,833.05 1272.28,834.41 1272.6,836.3 1273.61,835.47 1274.6,835.3 1274.92,836.12 1275.17,838.46 1275.24,839.38 1275.86,841.28 1276.11,843.18 1276.37,843.65 1276.58,846.22 1276.9,847.1 1277.23,849.08 1277.4,850.05 1278.05,852.25 1278.15,852.48 1278.41,853.87 1278.89,857.08 1279.06,857.34 1279.42,858.7 1279.5,860.8 1279.99,862.41 1279.79,864.64 1280.33,866.1 1280.77,867.14 1281.17,868.12 1281.48,869.93 1281.25,871.5 1281.56,872.59 1282.18,874.25 1282.4,876.5 1282.57,877.6 1283.02,880.21 1283.77,881.59 1284.19,882.29 1284.45,883.48 1284.91,885.91 1285.16,886.33 1285.4,888.3 1285.52,890.54 1286.16,891.45 1286.7,892.08 1286.97,894.14 1287.38,895.6 1287.39,897.97 1287.81,899.07 1288.3,900.1 1288.99,901.12 1289.39,902.86 1289.6,904.02 1290.52,905.76 1290.74,907.48 1290.94,909.41 1291.86,911.1 1292.2,911.9 1292.61,912.72 1293.11,914.99 1293.79,915.74 1294.21,916.63 1294.95,918.54 1295.2,920.44 1295.52,921.66 1296.2,922.6 1296.76,924.48 1297.26,924.83 1298.23,926.52 1298.73,928.01 1299.28,929.07 1300.1,930.5 1300.38,929.66 1301.11,928.34 1301.87,926.54 1302.5,924.31 1303.0,923.6 1303.39,921.7 1303.66,921.07 1303.77,919.6 1303.85,917.82 1304.38,915.43 1304.09,914.31 1304.56,912.31 1304.61,912.08 1305.0,909.9 1305.09,907.79 1305.13,907.09 1305.29,905.43 1305.66,903.89 1305.79,903.13 1305.66,901.82 1305.93,898.74 1306.43,898.23 1306.45,896.12 1306.75,894.8 1306.88,893.19 1306.9,892.2 1307.11,891.0 1307.16,889.23 1307.14,888.06 1307.68,885.71 1307.76,885.29 1307.66,884.01 1308.29,881.12 1308.08,879.72 1308.25,878.26 1308.56,877.08 1308.61,876.0 1308.9,874.6 1309.02,873.6 1309.43,870.87 1309.33,869.17 1309.6,867.83 1310.02,867.53 1310.4,864.98 1310.02,864.45 1310.45,863.25 1310.64,860.62 1310.64,860.25 1311.11,857.82 1311.26,856.9 1311.5,854.9 1312.27,853.63 1312.46,852.28 1313.46,851.06 1313.8,850.0 1314.33,848.71 1314.63,847.33 1314.93,845.9 1315.73,843.64 1315.86,843.69 1316.66,840.72 1316.8,840.2 1317.11,841.91 1317.48,843.1 1317.29,844.27 1317.88,846.51 1317.81,847.83 1318.32,849.33 1318.18,850.42 1318.7,852.0 1319.34,853.4 1320.1,853.78 1321.05,855.29 1321.7,856.9 1322.24,858.03 1322.45,860.4 1322.56,861.74 1322.89,863.59 1323.23,864.68 1323.8,865.17 1324.17,867.23 1324.6,868.7 1324.92,869.5 1325.36,871.29 1326.01,872.91 1326.06,874.11 1326.76,875.75 1326.94,878.15 1327.16,879.48 1327.6,880.5 1327.85,881.1 1328.09,883.01 1328.97,883.87 1329.1,886.17 1329.38,886.37 1329.9,888.3 1330.79,889.39 1331.91,891.47 1332.37,892.08 1333.4,893.2 1334.1,893.34 1334.87,895.9 1335.53,896.28 1336.4,897.1 1337.25,895.09 1338.1,893.95 1338.46,893.81 1339.3,892.2 1339.51,893.46 1340.08,895.12 1340.51,896.02 1341.13,897.38 1341.55,899.07 1342.3,901.1 1342.81,899.07 1343.49,898.19 1343.65,896.49 1344.5,894.76 1344.8,894.2 1345.15,892.08 1345.47,891.23 1345.46,890.65 1345.36,887.82 1345.92,887.36 1346.13,885.4 1346.2,884.4 1346.7,882.66 1347.16,881.65 1347.75,880.5 1348.06,879.94 1348.7,878.5 1348.63,877.57 1349.05,875.06 1348.99,874.09 1349.4,873.0 1349.5,870.97 1349.99,869.24 1350.21,868.88 1350.1,866.7 1351.26,866.86 1351.69,866.0 1352.7,864.8 1353.1,862.85 1353.66,862.24 1353.87,860.66 1353.76,859.8 1354.15,857.29 1354.74,855.76 1355.0,854.9 1355.58,856.46 1355.96,857.55 1356.56,858.4 1357.49,859.96 1358.0,860.8 1358.98,860.74 1360.5,861.8 1361.98,862.1 1362.9,862.8 1363.82,863.24 1364.95,864.57 1365.8,864.8 1366.49,865.98 1367.04,867.55 1367.41,869.69 1368.48,870.74 1368.8,871.6 1369.68,872.92 1370.16,873.89 1370.69,876.13 1371.38,877.72 1371.7,878.5 1372.34,879.48 1372.7,881.26 1372.83,882.46 1373.54,884.72 1373.98,885.81 1373.99,886.28 1374.6,888.3 1375.02,889.26 1375.25,890.53 1375.52,893.12 1375.93,894.83 1376.37,896.3 1376.73,896.73 1377.16,897.75 1377.6,900.1 1377.98,901.28 1378.14,903.55 1378.77,903.4 1379.53,905.21 1379.52,906.24 1379.85,908.88 1380.5,909.9 1380.99,911.32 1381.24,912.34 1382.12,913.9 1382.57,916.24 1382.5,917.58 1382.88,918.75 1383.8,920.13 1384.09,921.75 1384.5,922.6 1385.02,923.92 1385.81,924.92 1386.49,926.72 1387.4,927.6 1388.41,929.07 1389.41,929.71 1390.3,930.5 1390.75,929.59 1390.74,927.25 1391.16,925.86 1390.86,924.32 1391.42,923.93 1391.59,921.97 1391.96,920.71 1391.87,918.67 1392.26,916.94 1392.3,915.8 1392.19,914.42 1392.74,912.16 1392.79,911.73 1392.58,908.77 1392.92,907.53 1393.32,907.13 1393.14,905.17 1393.38,902.46 1393.71,900.87 1393.3,899.78 1393.39,898.23 1393.75,897.49 1393.87,895.71 1394.22,893.64 1394.02,891.54 1394.3,890.3 1394.44,888.6 1394.68,887.28 1394.63,885.95 1395.18,883.7 1394.93,881.84 1394.93,880.41 1395.28,880.3 1395.59,879.02 1395.82,876.82 1395.81,874.27 1395.84,873.2 1396.13,871.33 1396.2,870.6 1396.56,869.08 1396.86,867.83 1396.96,867.12 1397.71,865.58 1397.64,864.28 1398.2,862.8 1398.92,862.2 1399.36,859.03 1399.93,858.67 1400.2,856.9 1400.48,856.11 1401.22,854.53 1401.29,852.41 1401.78,850.36 1402.43,849.4 1402.58,847.72 1403.1,846.1" stroke="#2e2e2e" stroke-width="3.6" fill="none" stroke-linejoin="round" stroke-linecap="round"/>
<polyline points="59.6,1165.3 60.91,1164.92 61.7,1164.3 62.28,1165.77 62.66,1166.15 62.68,1168.44 63.17,1170.54 63.44,1171.01 63.7,1172.4 64.38,1171.21 65.02,1170.7 65.21,1168.33 66.1,1167.4 67.53,1167.61 68.5,1169.4 69.11,1167.21 69.46,1167.24 69.64,1165.14 70.07,1164.37 70.68,1162.84 71.1,1161.3 71.43,1162.97 72.24,1164.84 72.67,1165.39 72.84,1167.16 73.17,1169.43 73.7,1170.4 74.17,1169.17 75.2,1168.52 75.7,1166.4 75.89,1167.19 76.66,1169.59 76.94,1170.61 77.56,1171.29 78.1,1172.4 79.36,1172.12 80.1,1173.4 80.13,1171.19 80.15,1169.86 80.62,1168.77 80.41,1167.58 80.77,1164.8 81.09,1164.43 80.86,1163.05 81.35,1160.18 81.0,1159.74 81.63,1156.76 81.73,1156.38 81.7,1154.3 82.31,1156.15 83.04,1156.49 83.48,1158.81 83.8,1159.3 83.91,1161.09 84.36,1162.84 84.51,1163.26 84.54,1165.2 84.69,1167.22 85.37,1167.57 85.47,1169.8 85.35,1171.45 85.8,1172.4 86.29,1170.53 86.23,1168.97 86.96,1167.79 87.32,1165.72 87.23,1164.54 87.8,1163.3 88.43,1164.04 88.34,1166.46 88.75,1167.65 89.15,1168.24 89.9,1170.72 90.2,1171.4 90.95,1169.98 91.52,1168.45 92.6,1167.4 93.31,1168.92 94.46,1169.91 95.2,1170.4 95.87,1169.48 96.28,1167.64 97.03,1166.18 97.8,1165.3 98.54,1166.06 98.9,1167.46 99.82,1169.37 100.2,1170.4 100.72,1171.18 101.52,1173.19 101.8,1173.4 102.57,1172.19 103.62,1170.29 104.2,1169.4 104.83,1169.69 105.75,1171.88 106.32,1172.28 107.3,1173.4 108.26,1172.37 108.56,1172.01 109.3,1170.4 109.64,1168.63 109.29,1167.55 109.77,1166.52 109.83,1163.87 109.85,1162.29 109.91,1161.07 110.3,1160.31 110.42,1157.99 110.55,1155.83 110.63,1155.19 110.71,1153.24 110.89,1150.99 110.7,1150.3 111.41,1152.38 111.62,1153.89 112.03,1155.25 112.7,1156.3 113.18,1157.64 113.52,1159.84 114.34,1160.06 114.7,1162.3 115.64,1162.82 115.93,1164.2 116.7,1166.08 117.3,1166.4 118.22,1167.89 118.52,1168.19 118.99,1170.18 119.9,1171.4 121.15,1170.31 122.3,1169.4 123.59,1168.58 124.21,1167.92 125.3,1167.4 126.15,1168.69 127.4,1168.4 127.63,1166.96 127.71,1164.93 127.81,1163.85 128.07,1163.21 128.31,1160.31 128.18,1158.71 128.53,1158.32 128.8,1156.3 129.83,1155.33 130.4,1155.3 130.9,1156.53 131.09,1158.03 131.13,1158.52 131.83,1160.97 131.99,1162.72 132.4,1163.3 133.59,1161.94 134.4,1161.3 134.64,1162.75 135.49,1163.5 135.63,1165.33 136.12,1167.13 136.98,1167.65 137.4,1169.4 137.77,1167.7 138.01,1166.39 138.79,1165.66 139.13,1164.25 139.4,1163.3 139.68,1161.97 139.69,1160.11 139.74,1158.24 140.08,1157.61 139.92,1156.05 139.76,1154.0 139.94,1153.42 139.91,1151.2 140.52,1150.31 140.4,1148.3 140.7,1149.45 140.57,1151.68 140.78,1153.23 140.98,1154.8 141.28,1156.41 141.69,1157.13 141.86,1157.98 141.96,1159.52 141.93,1161.67 142.23,1163.05 142.06,1165.4 142.4,1166.4 143.03,1165.59 143.59,1163.02 144.36,1162.07 144.8,1161.3 145.18,1161.62 145.46,1164.04 146.16,1165.21 146.37,1166.6 146.8,1167.4 147.6,1165.5 148.22,1164.84 148.9,1163.3 149.44,1164.03 149.59,1165.57 149.86,1166.85 150.5,1168.4 151.14,1167.02 151.3,1165.78 151.77,1164.3 152.29,1161.61 152.85,1160.84 153.5,1159.3 153.96,1161.19 154.96,1161.31 155.45,1163.25 155.94,1163.66 156.5,1165.3 157.77,1167.16 158.21,1167.06 159.5,1168.4 160.73,1168.52 162.12,1170.45 163.5,1170.4 163.31,1169.43 163.59,1166.37 164.04,1165.25 163.73,1163.4 163.92,1161.82 163.91,1160.48 164.25,1159.25 164.18,1157.82 164.56,1156.6 164.41,1155.37 164.77,1153.15 164.69,1151.15 164.58,1150.57 164.9,1148.3 165.25,1149.01 165.73,1151.85 165.48,1152.95 165.89,1154.08 166.53,1155.17 166.61,1157.17 166.9,1158.3 167.72,1159.53 168.9,1160.3 169.05,1159.7 169.09,1157.75 169.2,1155.5 169.43,1153.81 169.87,1152.4 170.22,1150.79 170.31,1150.7 170.2,1148.08 170.78,1147.07 171.07,1145.37 171.0,1144.2 171.16,1146.59 171.35,1148.17 171.9,1148.36 171.92,1151.26 171.88,1152.66 172.5,1154.05 172.62,1154.45 173.05,1156.02 173.0,1158.3 173.57,1160.1 173.69,1161.43 174.15,1162.95 174.33,1164.68 175.0,1165.3 175.45,1164.65 176.02,1163.46 176.44,1161.78 176.8,1160.48 177.6,1159.3 177.78,1161.3 178.57,1161.87 179.18,1164.15 179.61,1163.95 179.89,1166.46 180.2,1167.4 180.66,1165.01 181.25,1164.26 181.46,1163.42 181.67,1160.49 182.45,1159.4 182.6,1158.3 182.8,1159.05 183.86,1161.53 183.87,1161.86 184.76,1164.2 185.0,1165.3 185.55,1165.91 185.95,1168.65 186.2,1168.98 187.0,1170.4 187.02,1169.85 187.33,1168.33 188.06,1166.49 187.87,1164.98 188.42,1163.17 188.5,1161.76 189.0,1160.3 189.52,1161.15 189.9,1163.18 189.87,1164.37 190.33,1166.62 190.73,1168.56 191.03,1169.4 191.66,1170.37 191.7,1172.4 191.63,1170.52 192.03,1168.59 192.32,1166.86 192.84,1166.11 193.04,1164.92 193.17,1163.47 193.14,1161.85 193.3,1159.97 193.7,1158.3 194.28,1160.0 194.54,1160.42 195.45,1162.45 196.07,1162.41 196.3,1164.3 196.53,1164.81 197.23,1167.18 197.59,1168.46 197.91,1169.29 198.3,1170.4 199.35,1169.67 199.99,1168.56 200.7,1167.4 201.2,1169.2 201.74,1169.4 202.16,1171.26 202.66,1172.84 203.12,1173.87 203.7,1175.4 204.06,1173.77 204.78,1171.86 204.61,1171.6 205.24,1169.71 205.7,1168.4 206.41,1167.14 206.84,1165.48 207.87,1166.12 208.3,1164.3 208.87,1165.29 209.7,1166.4 209.82,1164.15 210.38,1164.09 210.21,1161.59 210.71,1161.11 210.79,1158.92 210.87,1158.2 211.47,1156.86 211.25,1154.92 211.7,1153.3 212.67,1154.94 213.03,1155.16 213.46,1157.47 214.4,1158.3 214.34,1160.44 214.9,1161.42 215.23,1163.84 215.27,1163.92 215.45,1166.09 215.45,1168.59 215.8,1169.4 216.19,1167.33 216.14,1166.34 216.59,1164.92 216.76,1164.41 216.86,1162.86 217.2,1161.88 217.82,1159.38 217.8,1158.3 218.26,1159.0 218.55,1161.32 219.08,1162.22 219.12,1163.22 219.8,1165.3 220.17,1166.22 220.35,1168.55 221.04,1169.88 220.99,1171.52 221.33,1173.39 221.8,1174.4 221.93,1172.45 222.43,1172.1 222.6,1169.3 222.91,1167.82 223.37,1166.63 223.8,1165.3 224.33,1166.57 224.53,1168.0 225.08,1170.35 225.24,1171.83 225.51,1173.37 226.04,1174.28 226.4,1175.4 226.6,1173.53 226.71,1173.18 227.12,1171.39 227.44,1169.63 227.56,1167.54 227.9,1166.99 228.29,1164.32 228.66,1163.64 228.8,1162.3 228.71,1160.53 228.96,1160.21 229.33,1157.99 229.32,1156.59 229.5,1155.36 229.8,1154.3 230.2,1156.39 230.36,1158.13 230.56,1158.3 230.42,1159.96 230.77,1162.18 231.33,1163.85 231.31,1164.8 231.87,1167.29 231.8,1168.4 231.94,1166.11 232.57,1165.02 232.72,1163.3 232.85,1162.26 233.23,1160.69 232.99,1159.04 233.65,1158.98 233.79,1156.97 233.82,1154.77 233.94,1154.58 234.15,1152.44 234.57,1150.21 234.9,1149.3 235.08,1151.65 235.18,1151.85 235.62,1154.32 235.76,1155.04 236.2,1156.49 235.99,1158.31 236.41,1160.31 236.65,1162.34 237.06,1163.45 236.77,1165.68 236.97,1166.34 237.26,1168.43 237.85,1169.15 237.9,1171.4 237.96,1170.52 238.38,1167.68 238.57,1167.41 238.59,1164.75 238.92,1163.54 238.79,1161.75 239.14,1160.18 239.32,1159.44 239.6,1157.66 239.94,1155.59 239.84,1155.6 240.35,1154.07 240.47,1151.87 240.5,1150.3 240.94,1151.99 240.8,1152.97 241.06,1155.64 241.46,1156.36 241.86,1157.36 242.22,1160.17 242.54,1161.87 242.52,1162.11 242.9,1164.3 243.49,1163.22 243.68,1161.16 243.98,1160.61 244.59,1159.15 244.95,1156.84 245.48,1156.17 245.9,1154.3 246.8,1155.37 247.35,1156.79 247.9,1158.3 248.4,1160.21 248.5,1160.94 248.62,1163.32 249.22,1163.72 249.08,1164.97 249.89,1166.13 249.9,1168.4 250.49,1167.23 250.73,1166.03 251.05,1164.84 251.25,1164.28 251.9,1162.3 252.04,1163.04 252.75,1165.33 253.21,1166.81 253.66,1167.04 253.48,1168.76 254.32,1170.0 254.54,1172.5 254.9,1173.4 255.47,1172.2 256.69,1171.35 257.16,1169.61 258.0,1168.4 259.37,1168.73 261.0,1167.4 261.44,1166.16 261.42,1164.68 261.79,1163.24 261.98,1161.82 262.44,1159.48 262.64,1158.55 262.88,1157.26 262.84,1155.58 263.4,1153.3 263.76,1154.74 264.08,1155.6 264.01,1158.08 264.54,1158.93 264.88,1160.89 264.55,1161.4 264.8,1163.67 265.18,1164.58 265.5,1165.71 266.01,1168.55 266.0,1169.4 266.29,1167.91 266.39,1166.81 266.66,1166.09 267.27,1164.26 267.45,1161.7 267.27,1160.8 267.53,1159.55 268.0,1158.3 268.79,1160.25 269.28,1160.5 269.33,1161.49 269.86,1162.9 270.52,1164.69 271.0,1166.4 271.77,1165.14 272.39,1163.31 273.0,1162.3 273.59,1161.27 274.03,1159.5 274.33,1157.79 274.52,1156.74 275.32,1154.86 275.92,1154.73 276.36,1153.24 276.6,1151.3 277.43,1151.38 278.13,1153.06 279.1,1153.3 279.72,1154.1 279.47,1156.04 280.01,1157.98 280.2,1159.92 280.67,1161.54 281.1,1162.3 281.33,1163.3 281.57,1165.84 282.15,1166.94 282.17,1167.78 282.91,1169.92 283.1,1170.4 284.36,1168.69 285.02,1169.3 286.1,1167.4 287.12,1168.89 287.95,1167.88 289.1,1169.4 289.97,1167.55 290.34,1166.31 290.95,1165.92 291.77,1164.4 292.1,1162.3 292.62,1161.54 293.14,1159.48 294.1,1158.3 295.02,1159.11 295.32,1160.95 295.89,1162.43 296.7,1163.3 297.19,1161.07 297.75,1159.53 298.02,1158.53 298.09,1156.54 299.0,1156.34 299.1,1154.3 299.43,1156.33 300.08,1158.07 300.17,1158.39 300.51,1161.17 300.99,1162.11 301.2,1163.3 302.21,1164.5 302.84,1166.66 303.6,1167.4 304.29,1169.38 305.05,1170.13 306.2,1171.4 306.74,1169.25 307.45,1168.26 307.51,1166.69 308.25,1165.21 308.4,1163.08 309.2,1162.3 309.76,1163.08 309.91,1165.74 310.7,1167.32 310.72,1167.18 311.5,1169.69 311.69,1170.09 312.2,1172.4 312.39,1170.38 312.71,1170.17 312.72,1167.0 313.24,1165.51 313.19,1164.56 313.88,1162.81 313.7,1161.53 313.84,1159.85 314.4,1158.17 314.69,1156.37 314.5,1155.62 314.94,1154.6 315.2,1152.3 316.16,1153.74 317.6,1154.3 318.57,1153.07 319.11,1152.5 320.2,1151.3 320.8,1152.58 321.08,1154.3 321.62,1155.16 321.81,1156.57 322.48,1158.68 322.9,1159.3 324.0,1160.4 324.4,1160.8 325.3,1162.3 326.04,1161.4 326.48,1159.98 327.3,1158.3 327.85,1159.62 328.06,1161.21 328.14,1163.5 328.12,1164.07 328.84,1165.08 328.68,1167.33 329.2,1169.12 329.3,1170.4 329.81,1169.19 329.5,1166.6 329.77,1165.74 330.02,1164.4 330.63,1162.3 331.01,1161.17 331.33,1159.56 331.3,1158.3 331.64,1156.93 331.69,1155.91 331.8,1153.52 332.26,1153.21 332.63,1150.24 332.78,1149.83 333.35,1147.49 333.6,1146.55 333.7,1145.3 334.23,1146.56 334.7,1148.98 335.51,1150.25 335.92,1151.26 336.3,1152.3 336.58,1152.8 337.5,1155.28 337.88,1155.96 338.16,1158.39 338.82,1158.1 339.3,1160.3 339.68,1161.25 340.0,1163.6 340.98,1164.53 340.92,1165.03 341.7,1166.4 342.14,1165.53 343.24,1164.37 343.9,1161.89 344.4,1161.3 344.71,1161.79 345.81,1164.33 346.21,1164.48 347.01,1165.5 347.4,1167.4 347.69,1165.08 348.49,1164.41 348.76,1163.68 349.05,1162.6 349.4,1160.3 350.71,1161.07 351.7,1160.3 352.28,1158.17 352.45,1157.06 352.49,1155.89 353.19,1154.01 353.16,1152.76 353.8,1152.04 353.92,1150.71 354.1,1149.3 354.56,1150.51 354.65,1152.74 355.12,1154.5 355.19,1155.93 355.74,1156.93 355.84,1158.42 355.95,1159.07 356.5,1161.3 356.82,1159.29 357.1,1159.02 357.94,1157.51 358.06,1156.37 358.86,1154.85 359.1,1153.3 359.37,1154.92 359.9,1155.88 360.19,1158.46 360.91,1160.08 361.07,1160.38 361.7,1162.3 362.19,1162.73 362.54,1164.81 363.13,1166.7 363.67,1167.43 364.1,1168.4 365.65,1169.41 367.1,1169.4 368.32,1168.5 369.7,1169.4 370.21,1168.47 369.92,1165.79 370.2,1165.32 370.37,1162.71 370.81,1161.23 370.89,1160.45 371.08,1158.32 371.33,1157.29 371.7,1156.3 371.83,1157.71 372.08,1159.12 372.11,1161.61 372.78,1162.55 372.57,1163.65 373.34,1165.62 373.16,1167.84 373.8,1168.15 373.8,1170.4 374.8,1171.51 375.8,1172.4 375.75,1170.52 376.23,1169.6 376.42,1167.95 376.45,1165.41 376.42,1165.23 377.11,1163.8 376.82,1162.0 377.06,1159.69 377.26,1159.06 377.81,1157.45 377.8,1155.3 377.95,1157.65 378.1,1158.57 378.57,1159.52 378.62,1160.85 379.09,1162.57 378.91,1164.3 379.44,1166.51 379.59,1168.47 379.8,1169.4 380.19,1167.37 380.31,1165.79 380.37,1164.24 380.52,1163.1 381.25,1162.15 381.01,1159.85 381.55,1158.9 381.46,1156.61 382.03,1156.02 381.98,1154.82 382.32,1152.98 382.73,1151.03 383.22,1149.62 383.2,1148.3 383.35,1149.84 383.8,1152.12 383.96,1152.78 384.13,1154.43 384.48,1156.49 384.56,1156.6 384.64,1158.48 384.64,1160.56 384.83,1161.9 385.19,1162.86 385.52,1164.87 385.89,1166.83 385.8,1167.4 386.29,1165.51 386.52,1164.46 386.99,1162.91 386.95,1160.69 387.33,1160.14 387.54,1157.91 387.95,1156.38 388.08,1155.59 388.49,1154.23 388.91,1152.56 389.2,1151.3 389.27,1151.99 389.81,1155.26 389.94,1155.7 390.25,1157.96 390.64,1159.61 390.64,1159.97 391.05,1161.95 391.45,1163.54 391.8,1165.3 392.88,1163.86 393.45,1163.47 394.2,1161.3 394.67,1162.86 395.17,1163.78 395.08,1166.29 395.77,1167.0 395.88,1168.68 396.45,1169.88 396.78,1171.77 397.3,1172.4 397.48,1170.49 398.06,1168.88 397.94,1167.85 398.63,1165.67 398.43,1165.38 398.61,1163.19 399.29,1162.21 399.56,1159.63 399.87,1158.55 399.9,1157.3 400.37,1158.69 400.71,1160.15 400.61,1161.0 401.04,1162.26 401.13,1165.19 401.66,1166.61 401.9,1167.4 402.02,1168.7 402.55,1169.36 402.76,1172.16 403.37,1172.75 403.63,1174.72 403.9,1175.4 404.44,1174.0 404.16,1172.94 404.5,1170.23 404.75,1169.16 405.28,1167.5 405.48,1165.35 405.9,1164.5 405.92,1163.47 406.3,1161.3 408.06,1161.56 409.3,1160.3 409.74,1157.98 409.54,1157.12 409.62,1156.1 410.16,1153.46 410.07,1153.41 410.46,1150.93 410.14,1149.4 410.54,1148.45 410.5,1145.99 411.13,1143.96 411.06,1142.56 411.3,1141.61 411.3,1140.2 411.78,1141.27 411.97,1142.84 411.7,1144.16 411.93,1146.27 412.69,1147.77 412.76,1148.76 412.87,1151.24 412.84,1152.88 413.3,1154.3 413.77,1155.49 414.5,1157.64 414.57,1158.09 415.3,1160.3 415.73,1158.87 416.78,1159.14 417.4,1157.3 418.11,1159.4 418.03,1160.71 418.84,1161.58 419.41,1163.25 419.31,1164.0 419.75,1166.16 420.4,1167.4 421.07,1166.62 421.31,1163.68 422.48,1162.71 422.66,1162.38 423.4,1160.3 423.6,1162.18 424.5,1163.11 424.77,1163.46 425.2,1165.9 425.73,1167.08 426.0,1168.4 426.07,1166.39 426.69,1164.62 426.66,1163.41 427.38,1162.43 427.41,1161.67 427.85,1158.85 428.14,1158.45 428.4,1156.3 429.12,1157.18 430.05,1159.18 430.8,1159.3 431.38,1157.48 431.85,1156.48 432.28,1155.93 432.8,1154.3 432.91,1155.71 433.49,1157.28 434.19,1158.44 434.48,1159.52 434.8,1161.3 435.17,1162.54 435.86,1163.24 436.52,1164.96 436.79,1165.74 437.4,1167.4 438.5,1167.09 439.46,1164.88 440.1,1164.3 440.32,1165.76 440.77,1167.38 441.65,1167.67 441.98,1169.51 442.5,1170.4 442.47,1168.65 443.01,1167.71 443.07,1165.16 443.02,1163.93 443.08,1163.12 443.57,1162.12 443.73,1160.6 443.85,1158.37 443.91,1156.77 444.48,1155.31 444.09,1153.56 444.38,1152.54 444.73,1150.76 444.9,1149.3 445.45,1151.22 445.23,1151.34 445.89,1153.81 446.15,1155.08 446.07,1156.44 446.83,1158.15 446.65,1158.74 447.45,1160.94 447.5,1162.3 447.82,1161.27 448.79,1160.16 449.15,1158.65 449.33,1156.63 450.1,1155.3 450.69,1156.35 450.69,1158.62 451.42,1158.41 451.44,1160.74 452.37,1162.18 452.5,1163.3 454.23,1162.59 455.5,1163.3 456.15,1161.33 456.6,1159.87 457.28,1158.28 457.99,1157.96 458.5,1156.3 459.98,1155.78 460.71,1154.96 462.2,1153.3 462.71,1155.29 463.16,1154.95 463.76,1156.31 464.41,1158.17 464.6,1159.3 465.24,1160.71 465.3,1162.43 465.93,1163.49 466.07,1164.84 466.6,1166.4 467.06,1164.39 467.06,1163.34 467.69,1161.07 467.8,1161.18 468.13,1159.31 468.6,1157.3 468.91,1158.0 469.45,1160.85 470.05,1160.82 470.44,1163.29 470.73,1164.81 471.18,1165.39 471.6,1167.4 472.37,1165.71 472.79,1165.98 473.59,1164.35 474.2,1163.3 475.13,1164.32 475.73,1165.46 476.6,1166.4 476.61,1164.75 476.92,1164.52 477.74,1162.51 477.59,1161.49 477.97,1160.01 478.49,1158.26 478.84,1156.27 479.0,1155.3 479.54,1156.89 479.83,1158.94 479.87,1159.68 480.27,1160.59 480.91,1163.2 481.02,1164.46 481.59,1165.11 481.7,1167.4 482.61,1168.74 483.7,1169.4 483.92,1167.89 483.96,1165.88 484.4,1164.58 484.76,1164.08 484.98,1161.45 484.91,1159.63 485.02,1158.06 485.3,1158.14 485.66,1155.56 485.7,1154.3 485.85,1156.53 486.01,1157.83 486.78,1157.89 487.13,1160.39 487.08,1161.44 487.5,1163.08 487.94,1165.2 487.91,1165.06 488.3,1167.4 488.71,1166.16 488.87,1163.61 488.77,1163.59 489.18,1161.31 489.78,1159.3 489.82,1157.55 490.02,1157.26 490.01,1155.79 490.74,1154.4 490.7,1152.3 491.27,1154.61 491.63,1155.39 492.09,1157.35 492.38,1158.6 492.51,1159.51 493.1,1161.3 493.65,1160.7 494.57,1158.42 495.35,1156.76 495.7,1156.3 495.96,1157.19 496.49,1159.51 497.18,1159.7 497.99,1161.16 498.3,1162.3 499.18,1163.19 499.88,1165.12 500.7,1165.3 501.34,1166.37 502.24,1166.7 502.81,1168.39 503.8,1169.4 504.85,1168.61 505.27,1168.85 506.4,1167.4 506.52,1166.74 506.79,1164.97 507.19,1162.92 507.69,1162.46 508.03,1160.5 508.4,1159.3 508.94,1160.59 509.47,1162.62 510.01,1162.39 510.8,1164.3 511.16,1162.48 511.6,1160.36 511.91,1159.39 512.39,1157.72 512.43,1156.19 512.82,1154.57 513.24,1153.25 513.59,1151.48 513.8,1150.3 514.21,1151.74 514.8,1153.24 515.06,1153.55 515.3,1155.0 515.78,1156.4 516.4,1158.3 517.7,1158.51 518.8,1159.3 519.54,1160.32 519.65,1161.73 520.09,1164.13 520.8,1165.3 521.45,1166.13 522.19,1168.17 522.56,1169.32 523.2,1170.4 523.95,1168.87 524.27,1167.32 525.45,1165.91 525.92,1163.98 526.5,1163.3 527.86,1164.96 528.9,1165.3 529.82,1165.77 530.91,1166.25 531.9,1167.4 532.33,1168.13 533.21,1170.22 533.97,1172.43 534.52,1173.8 534.9,1174.4 535.85,1172.54 536.18,1173.26 537.37,1171.61 537.9,1170.4 538.97,1169.62 539.85,1168.43 540.9,1168.4 541.33,1166.77 541.47,1166.63 542.14,1165.42 542.38,1163.66 542.9,1162.3 543.77,1161.9 544.73,1160.57 545.9,1159.3 546.61,1159.99 547.0,1161.28 547.94,1162.87 548.6,1163.3 548.82,1164.15 549.28,1166.68 549.64,1167.8 549.92,1168.23 550.6,1170.4 551.07,1168.95 551.05,1167.47 551.89,1165.88 552.01,1164.49 552.32,1162.36 552.89,1161.89 553.0,1160.3 553.24,1158.36 553.48,1157.97 554.2,1155.41 554.4,1154.17 554.49,1151.68 555.14,1150.36 555.37,1148.54 555.38,1147.25 556.0,1146.3 556.53,1148.0 557.16,1149.59 557.31,1149.92 558.01,1152.28 558.38,1152.98 558.6,1155.3 559.6,1156.59 560.03,1157.8 561.0,1159.3 561.25,1160.95 561.83,1162.66 562.3,1164.14 563.0,1165.3 564.07,1166.38 565.27,1166.33 566.0,1167.4 567.14,1168.22 568.3,1169.99 569.1,1170.4 569.76,1169.3 569.96,1168.58 570.88,1167.38 571.1,1165.3 571.75,1167.15 572.71,1168.46 573.53,1169.04 574.1,1170.4 574.41,1169.42 574.94,1167.45 575.45,1165.02 575.31,1164.29 575.73,1163.45 576.1,1162.01 576.56,1159.15 577.1,1158.3 577.92,1157.62 578.38,1156.47 579.1,1155.3 579.63,1157.61 580.1,1158.37 580.58,1159.64 581.1,1161.3 581.45,1159.1 581.7,1159.07 581.98,1156.88 581.97,1154.58 582.06,1153.87 582.77,1152.96 582.59,1151.25 583.2,1149.26 583.47,1147.24 583.5,1146.3 583.77,1147.75 584.38,1149.06 584.5,1151.25 584.92,1151.87 585.19,1153.41 585.85,1154.62 586.1,1156.3 587.2,1157.29 587.81,1159.13 589.1,1159.3 589.75,1160.38 590.93,1160.77 591.16,1161.77 592.2,1163.3 592.99,1164.96 594.21,1164.53 595.06,1166.39 596.2,1167.4 596.28,1165.59 596.99,1164.37 596.86,1163.18 597.06,1161.58 597.65,1159.34 597.87,1158.28 598.26,1157.36 598.63,1155.88 598.46,1153.66 599.05,1153.32 599.2,1151.3 600.44,1150.65 602.2,1150.3 603.07,1150.74 604.2,1151.3 604.65,1149.95 604.79,1148.87 604.73,1147.15 605.01,1145.43 605.33,1144.32 605.33,1143.18 605.55,1140.77 606.19,1140.53 606.2,1138.2 606.36,1140.48 606.4,1141.95 606.73,1141.75 607.3,1143.45 607.53,1144.63 607.39,1146.73 607.61,1148.39 608.0,1150.34 608.32,1152.21 608.77,1152.24 608.8,1154.3 609.85,1156.01 610.44,1156.35 611.2,1157.3 611.78,1158.23 612.58,1159.25 613.59,1160.73 614.3,1162.3 614.63,1160.92 614.83,1158.54 615.01,1157.79 615.05,1155.8 615.25,1154.59 615.43,1153.4 615.25,1151.38 615.78,1149.36 615.88,1148.81 616.1,1146.91 616.12,1145.67 616.3,1144.2 616.65,1144.98 616.71,1146.86 616.95,1148.41 616.92,1149.9 617.54,1151.69 617.73,1153.9 617.56,1155.12 617.61,1157.35 618.18,1157.42 618.31,1159.65 618.6,1160.83 618.95,1162.97 618.9,1164.3 618.86,1163.37 619.56,1160.94 619.66,1160.43 619.98,1157.5 620.16,1156.32 620.36,1155.6 620.37,1154.48 620.78,1153.14 621.09,1150.88 621.17,1149.54 621.18,1147.73 621.45,1145.71 621.52,1145.34 622.08,1143.57 622.2,1141.72 622.3,1140.2 622.59,1142.01 622.5,1143.12 623.33,1144.21 623.28,1145.49 623.4,1148.35 623.52,1149.81 624.23,1151.45 624.3,1152.3 624.67,1151.88 625.26,1149.81 626.13,1148.78 626.49,1146.8 626.9,1146.3 626.91,1147.42 627.28,1149.97 627.68,1151.76 628.24,1151.93 628.57,1153.7 628.77,1154.81 629.26,1157.64 629.42,1159.01 629.59,1159.54 629.89,1162.19 630.3,1163.3 630.77,1161.14 631.01,1160.26 631.31,1157.98 632.0,1156.64 632.7,1155.13 632.9,1154.3 633.55,1156.23 633.79,1157.18 634.7,1158.71 634.83,1160.76 635.4,1161.3 636.06,1161.12 636.89,1159.16 637.8,1158.3 637.79,1157.07 638.23,1155.62 637.91,1154.66 638.33,1152.28 638.51,1150.05 638.46,1149.76 638.67,1148.05 638.34,1146.19 638.56,1144.92 638.74,1143.14 638.92,1141.87 639.0,1140.2 639.47,1141.39 639.33,1142.79 639.47,1145.56 640.19,1145.84 640.08,1148.82 640.62,1150.53 640.93,1150.89 640.61,1152.37 641.1,1154.4 641.32,1152.02 641.38,1151.34 641.85,1149.26 641.73,1148.07 641.93,1146.18 642.15,1145.9 642.83,1143.03 643.0,1142.96 643.12,1140.48 643.43,1138.58 643.19,1138.64 643.5,1137.06 644.04,1133.99 644.1,1133.3 644.1,1135.07 644.37,1136.62 644.92,1137.35 645.05,1138.82 645.52,1141.09 645.65,1142.58 645.52,1144.56 646.19,1145.41 646.31,1146.88 646.5,1148.4 647.17,1149.86 647.41,1151.23 647.89,1151.71 648.59,1154.67 649.1,1155.4 649.52,1153.43 649.68,1152.66 650.01,1150.99 650.26,1149.96 650.77,1148.21 651.0,1147.06 650.89,1144.86 651.3,1143.58 651.7,1142.4 652.09,1140.51 652.8,1139.79 652.82,1138.21 653.55,1135.72 653.78,1135.64 654.1,1133.3 654.43,1135.33 655.08,1135.68 655.09,1137.9 655.65,1138.43 656.08,1140.46 656.5,1141.4 657.8,1141.82 658.79,1140.15 659.7,1140.4 660.22,1138.24 660.72,1137.56 661.31,1136.53 662.1,1135.3 662.71,1134.58 663.71,1132.84 664.6,1132.3 665.04,1133.38 664.96,1135.68 665.73,1137.14 665.78,1137.43 666.34,1138.6 666.83,1140.9 666.9,1141.21 667.2,1143.4 667.36,1141.81 668.07,1139.85 668.12,1138.27 668.64,1138.02 668.83,1136.57 668.74,1134.2 668.95,1133.3 669.26,1131.19 669.8,1130.3 670.54,1131.72 671.84,1131.25 672.6,1132.3 674.18,1131.19 675.2,1131.3 675.31,1132.47 676.03,1133.35 676.35,1135.54 676.68,1136.56 676.55,1137.52 677.28,1139.64 677.63,1140.47 677.8,1142.4 678.27,1140.63 679.21,1140.27 679.39,1139.06 680.2,1137.4 680.72,1138.34 681.65,1139.88 682.6,1140.4 682.98,1139.27 682.91,1136.65 683.42,1136.36 683.29,1135.15 684.07,1132.83 684.08,1131.89 684.57,1130.42 684.57,1129.17 684.8,1126.39 685.08,1125.61 685.3,1124.3 685.58,1125.48 685.88,1126.71 686.57,1129.12 686.77,1130.42 686.95,1131.2 687.7,1133.06 687.86,1133.33 688.3,1135.3 688.86,1133.93 688.96,1131.88 688.92,1130.71 689.39,1129.72 689.83,1127.9 690.06,1126.33 690.3,1124.3 690.48,1126.69 691.15,1127.48 691.31,1128.06 692.02,1130.71 692.4,1131.36 692.7,1133.3 692.89,1132.28 693.18,1131.04 693.05,1129.29 693.21,1127.53 693.72,1125.03 693.85,1124.6 694.32,1122.04 694.31,1121.83 694.27,1120.51 694.7,1118.3 696.26,1118.02 697.3,1118.3 697.35,1116.1 697.58,1115.02 698.09,1114.39 698.22,1112.85 698.37,1110.75 698.33,1108.75 698.57,1106.67 699.26,1105.07 699.3,1104.2 699.31,1105.79 699.58,1106.43 699.47,1109.14 699.78,1109.63 699.95,1111.67 700.4,1112.63 700.04,1114.21 700.4,1117.35 700.67,1117.36 700.66,1119.34 701.05,1121.51 700.96,1122.24 701.0,1124.27 701.09,1125.88 701.3,1127.3 701.48,1125.73 702.45,1124.26 702.59,1123.47 703.2,1122.01 703.37,1120.54 703.69,1118.94 704.3,1117.3 704.43,1118.25 704.94,1120.03 705.69,1120.94 706.19,1122.57 706.65,1125.61 706.8,1126.3 707.15,1125.48 707.64,1123.35 707.87,1121.18 708.11,1120.85 708.39,1118.53 708.26,1117.77 708.8,1116.3 709.09,1115.19 709.06,1113.54 709.77,1111.53 709.91,1111.36 710.05,1108.98 710.12,1107.58 710.4,1106.2 710.39,1106.99 710.7,1108.72 711.29,1110.62 711.5,1112.53 711.73,1114.69 711.84,1115.43 711.77,1117.2 712.03,1119.23 712.09,1120.44 712.49,1121.6 712.8,1123.3 713.05,1122.6 713.54,1119.91 713.74,1119.42 713.7,1117.15 713.73,1115.99 714.12,1114.37 714.61,1112.56 714.69,1110.85 714.8,1109.2 714.86,1107.7 715.11,1105.77 715.95,1104.7 715.72,1103.37 715.96,1102.25 716.35,1100.12 716.8,1099.2 717.75,1098.97 718.24,1097.59 719.4,1096.2 720.1,1095.15 720.65,1093.27 721.26,1093.17 722.0,1092.1 722.08,1094.45 722.27,1095.65 722.73,1097.02 722.72,1097.95 723.12,1098.73 722.93,1100.01 723.27,1102.26 723.73,1104.58 723.58,1105.27 723.58,1107.19 724.0,1108.2 724.41,1108.95 725.03,1110.08 725.02,1112.21 725.9,1112.95 725.86,1115.47 726.4,1116.3 726.54,1115.62 726.58,1112.92 726.99,1112.56 727.09,1110.79 727.8,1109.88 727.98,1106.76 728.02,1105.6 728.04,1104.19 728.5,1103.2 728.94,1104.71 728.88,1105.56 729.14,1108.09 729.85,1108.65 730.28,1110.94 730.12,1111.01 730.41,1113.06 730.9,1114.2 731.25,1112.79 731.64,1111.36 731.66,1110.17 732.33,1107.61 732.34,1106.33 732.78,1105.41 733.13,1104.39 733.49,1102.79 733.5,1101.2 733.82,1103.56 734.2,1103.93 734.04,1106.49 734.28,1108.0 735.06,1109.04 735.33,1110.45 735.47,1111.94 735.41,1112.52 735.99,1114.7 736.1,1116.3 736.09,1114.94 736.39,1112.93 736.97,1112.11 737.11,1110.99 737.14,1108.87 737.35,1107.23 737.77,1106.71 737.7,1104.93 737.87,1102.19 738.36,1102.11 738.37,1101.03 738.82,1098.35 738.9,1097.2 739.29,1099.27 739.16,1100.85 739.57,1101.16 739.77,1103.07 740.1,1104.1 740.05,1106.16 740.69,1107.73 740.73,1109.48 740.74,1109.62 740.97,1111.84 741.5,1113.2 742.26,1111.71 743.02,1110.31 743.47,1111.03 744.5,1109.2 745.03,1109.93 745.19,1112.23 745.42,1114.34 745.78,1116.03 746.11,1117.5 746.07,1118.84 746.49,1120.53 747.07,1122.12 747.35,1122.59 747.5,1124.3 747.76,1123.34 747.73,1121.44 748.28,1120.3 748.39,1118.64 748.87,1116.77 749.08,1116.24 749.14,1114.1 749.45,1113.2 749.57,1110.74 749.89,1109.94 750.2,1108.2 750.69,1110.31 751.6,1111.11 752.25,1111.1 753.0,1113.2 753.33,1111.83 753.55,1111.06 754.25,1108.63 754.32,1106.74 754.9,1105.97 755.2,1104.17 755.66,1102.82 756.2,1101.2 756.46,1102.74 756.65,1104.43 756.4,1106.0 756.79,1107.69 757.21,1108.46 757.31,1109.75 757.34,1110.85 757.59,1113.15 757.52,1114.75 757.62,1115.78 757.97,1118.0 757.73,1118.86 758.41,1120.39 758.18,1122.43 758.37,1124.6 758.6,1125.3 759.32,1123.2 759.29,1121.85 759.85,1120.63 760.42,1120.28 760.49,1117.3 760.94,1116.39 761.6,1115.3 762.68,1115.68 764.2,1116.3 764.32,1115.2 764.88,1114.14 764.75,1112.03 764.78,1110.47 765.43,1109.45 765.18,1106.65 765.84,1106.1 765.96,1103.45 766.07,1101.87 766.34,1101.75 766.29,1098.81 766.6,1098.2 767.24,1100.6 767.67,1100.96 768.0,1103.26 768.88,1103.96 768.93,1106.59 769.6,1107.2 771.11,1107.1 772.7,1107.2 773.39,1106.27 774.59,1104.48 775.1,1103.2 775.83,1101.62 776.09,1100.94 776.94,1099.46 777.3,1098.19 777.7,1096.2 778.6,1098.27 779.02,1098.5 779.35,1100.0 780.3,1101.2 780.77,1099.1 781.72,1098.45 782.24,1096.73 782.46,1096.91 783.1,1095.2 783.7,1096.76 784.09,1096.96 784.8,1099.42 785.1,1100.2 785.37,1098.87 785.85,1097.3 785.94,1095.84 786.38,1094.85 786.43,1093.48 786.74,1091.86 787.1,1090.1 787.35,1092.33 788.01,1093.62 788.0,1094.37 788.36,1096.34 788.45,1097.74 789.31,1098.39 789.61,1100.82 789.7,1102.2 790.28,1104.17 790.4,1105.8 790.51,1106.23 791.06,1109.16 791.26,1109.55 791.41,1111.65 791.7,1113.2 791.92,1111.74 792.27,1111.18 792.68,1109.72 793.15,1106.84 793.36,1105.76 793.56,1104.65 793.94,1102.73 794.21,1101.41 794.4,1100.2 795.77,1099.19 796.8,1098.2 797.19,1097.71 797.27,1094.53 797.94,1094.08 798.09,1093.24 798.53,1091.06 798.89,1089.68 799.04,1089.08 799.2,1087.1 799.32,1088.5 799.52,1089.91 799.75,1092.36 799.74,1094.17 800.37,1094.94 800.49,1096.02 800.76,1098.6 800.73,1099.47 800.83,1100.57 801.41,1102.82 801.37,1104.36 801.41,1104.76 801.8,1107.2 801.88,1105.83 801.94,1104.26 802.2,1102.25 802.61,1100.92 802.78,1100.11 802.73,1097.31 803.17,1096.73 803.18,1095.47 803.33,1094.36 803.17,1092.96 803.7,1090.44 803.8,1089.1 804.91,1090.81 805.59,1090.22 806.4,1092.1 806.64,1093.45 806.78,1095.71 806.68,1097.24 806.95,1097.69 806.96,1098.93 807.26,1101.2 807.83,1102.07 807.61,1103.94 807.98,1105.41 808.17,1106.55 807.96,1108.84 808.4,1110.2 808.73,1108.04 808.53,1107.5 808.74,1106.47 809.31,1103.59 809.35,1101.9 809.35,1100.93 810.03,1100.44 810.15,1098.45 810.25,1096.72 810.4,1095.2 810.69,1096.69 810.74,1098.81 810.88,1099.53 811.31,1102.04 811.31,1102.58 811.54,1103.68 811.71,1106.22 811.81,1107.16 812.07,1108.84 812.56,1109.51 812.59,1111.14 812.8,1113.2 813.17,1112.08 813.19,1109.83 813.52,1108.56 814.15,1108.1 814.36,1105.79 814.44,1104.0 814.72,1103.9 814.78,1101.45 815.3,1100.2 815.98,1101.82 816.91,1102.18 817.9,1103.2 817.93,1102.03 818.51,1100.72 818.93,1099.11 818.96,1096.71 819.46,1094.84 819.96,1094.54 820.0,1092.38 820.05,1091.22 820.76,1088.92 820.9,1088.1 821.16,1089.71 821.88,1091.17 822.35,1092.79 822.9,1093.2 823.34,1094.33 823.36,1096.27 823.52,1098.14 823.9,1099.59 823.84,1100.48 824.24,1102.08 824.14,1103.94 824.61,1104.22 825.08,1106.39 825.23,1108.18 825.3,1109.2 825.56,1108.37 825.4,1105.74 825.66,1104.71 825.87,1102.04 826.01,1100.72 826.44,1099.65 826.58,1097.27 826.8,1096.13 826.73,1094.19 826.95,1093.24 827.14,1091.77 827.33,1090.68 827.94,1088.36 827.9,1087.1 827.93,1089.39 828.23,1090.28 828.92,1091.44 829.29,1092.29 829.48,1095.11 829.87,1096.46 829.88,1097.31 830.42,1098.53 830.5,1100.2 831.15,1098.02 831.92,1096.89 832.9,1096.2 833.76,1097.11 834.01,1099.55 834.81,1099.83 835.3,1101.2 835.6,1099.76 836.25,1099.61 836.87,1098.45 837.32,1095.59 838.0,1095.2 838.61,1095.86 838.92,1098.23 838.98,1100.09 839.44,1101.78 839.89,1103.14 840.49,1103.55 840.6,1105.2 840.95,1104.1 841.17,1101.32 841.43,1101.14 841.38,1098.43 841.54,1097.73 841.8,1096.77 842.23,1095.52 842.66,1092.99 842.57,1091.48 843.0,1090.1 843.56,1092.27 844.24,1092.82 844.21,1094.95 845.11,1096.43 845.68,1098.25 846.0,1099.2 846.35,1098.22 846.32,1096.89 846.92,1093.81 846.89,1093.24 847.25,1092.21 847.5,1089.85 847.91,1089.11 848.06,1087.47 848.59,1085.33 848.99,1084.35 849.0,1082.1 849.48,1083.52 849.39,1084.26 850.09,1085.41 850.42,1087.16 850.6,1089.35 851.0,1090.1 851.95,1091.82 852.47,1092.71 853.54,1094.69 854.0,1095.2 854.4,1095.78 854.91,1097.05 854.77,1099.49 855.15,1100.99 855.78,1101.26 856.0,1103.2 856.47,1105.66 856.54,1107.2 856.85,1107.85 857.08,1110.26 857.23,1110.28 857.26,1112.97 857.48,1113.57 857.75,1115.09 858.0,1117.3 858.21,1115.07 858.59,1113.77 858.94,1112.07 858.98,1111.52 858.94,1109.99 859.38,1108.46 859.39,1106.7 860.0,1105.45 859.87,1103.43 860.48,1101.41 860.46,1100.73 860.7,1099.2 861.06,1099.64 861.26,1102.48 861.87,1102.83 862.27,1103.73 862.45,1106.46 863.1,1107.2 863.56,1105.14 863.59,1103.42 863.89,1102.71 864.45,1101.17 864.81,1100.55 864.94,1097.32 864.98,1096.94 865.28,1095.84 865.53,1092.81 866.1,1092.1 866.92,1093.35 867.17,1095.11 867.43,1096.06 868.1,1098.21 868.7,1099.2 869.67,1098.22 870.11,1096.46 871.1,1095.2 871.68,1096.06 871.68,1098.3 872.4,1098.68 872.55,1100.91 872.78,1103.04 872.86,1104.04 873.32,1105.77 873.9,1106.6 874.1,1108.2 874.22,1107.18 874.87,1105.31 875.22,1104.51 875.25,1102.54 875.91,1100.28 876.29,1098.86 876.65,1097.85 876.7,1096.2 877.2,1098.44 877.31,1099.06 877.33,1100.99 877.76,1102.23 878.03,1103.42 878.02,1104.83 878.03,1106.64 878.17,1108.69 878.74,1109.92 879.06,1111.74 879.1,1113.2 879.65,1111.03 879.88,1109.48 880.22,1109.54 880.65,1107.66 881.24,1106.37 881.98,1105.22 882.2,1103.2 882.88,1105.44 882.94,1106.88 883.56,1107.0 883.7,1108.84 884.2,1110.2 884.78,1108.1 885.18,1107.76 885.38,1105.91 885.63,1104.53 886.2,1103.22 886.58,1102.63 886.58,1099.71 887.2,1099.2 888.21,1099.65 888.89,1101.03 889.28,1101.32 890.2,1103.2 890.46,1101.97 890.53,1099.5 890.97,1099.66 891.55,1097.12 891.64,1096.0 892.13,1094.35 892.21,1093.34 892.44,1091.79 893.05,1090.52 893.2,1089.1 893.2,1090.28 893.78,1091.53 893.93,1093.57 894.19,1094.35 894.76,1095.6 895.04,1097.1 895.1,1099.37 895.28,1100.97 895.6,1102.2 896.48,1100.62 896.64,1099.16 897.78,1098.63 898.2,1097.2 898.55,1098.5 898.49,1100.54 898.84,1102.44 898.8,1102.92 899.31,1105.43 899.38,1106.72 899.37,1107.95 899.7,1109.55 899.88,1110.14 900.2,1112.2 900.41,1113.95 901.03,1115.64 901.2,1115.47 901.79,1117.16 902.08,1118.93 902.3,1120.3 903.02,1118.21 903.64,1118.25 904.53,1117.24 905.3,1115.3 905.88,1116.76 906.39,1117.2 906.44,1119.56 906.63,1121.57 907.3,1122.3 907.27,1120.98 907.53,1119.15 907.83,1117.51 907.84,1116.72 908.3,1114.2 908.69,1112.78 908.43,1111.62 908.7,1110.53 909.2,1108.36 909.19,1107.83 909.19,1105.88 909.48,1105.37 909.7,1103.2 910.13,1104.67 909.96,1105.96 910.67,1107.61 910.67,1109.49 910.72,1111.02 911.37,1111.56 911.47,1114.41 911.64,1115.33 911.95,1116.88 912.3,1118.3 912.38,1116.45 912.84,1115.51 913.03,1113.3 912.86,1111.79 913.24,1110.23 913.27,1108.32 913.34,1106.92 913.7,1105.53 913.87,1104.32 913.65,1102.73 914.15,1101.41 914.23,1099.62 914.25,1097.29 914.52,1096.62 914.56,1094.45 914.77,1093.28 914.65,1092.55 914.9,1090.1 915.32,1091.89 915.61,1093.38 915.59,1095.31 916.16,1096.26 916.13,1097.42 916.15,1099.58 916.88,1100.52 916.92,1102.36 916.9,1103.09 917.3,1104.93 917.7,1106.2 918.13,1104.99 918.98,1103.24 919.03,1101.12 919.98,1100.54 920.3,1099.2 920.46,1099.89 920.46,1101.38 921.14,1103.01 920.99,1105.31 921.34,1106.4 921.59,1108.69 921.99,1109.25 921.78,1110.81 921.97,1112.54 922.02,1115.15 922.37,1116.58 922.89,1118.21 922.61,1119.38 923.31,1121.0 923.3,1122.3 923.64,1120.6 924.05,1119.23 924.04,1117.59 924.39,1115.47 924.79,1115.07 925.06,1112.02 925.19,1111.81 925.3,1109.78 925.8,1108.2 926.44,1109.61 926.76,1110.03 927.52,1111.65 927.99,1113.64 928.6,1114.25 929.0,1116.3 929.43,1115.24 929.52,1112.72 929.58,1111.56 929.72,1110.63 929.7,1109.57 929.86,1107.2 930.18,1105.12 930.44,1103.94 930.58,1102.1 930.27,1101.39 930.49,1099.61 930.62,1098.62 931.09,1097.04 931.1,1095.2 931.1,1095.97 931.58,1097.61 931.88,1100.03 932.23,1102.11 932.28,1103.71 932.4,1104.32 932.35,1106.65 932.93,1108.11 933.06,1109.37 933.52,1110.81 933.27,1113.43 933.7,1114.2 934.07,1113.45 934.42,1111.16 934.14,1109.8 934.56,1108.15 934.95,1106.44 935.27,1104.91 935.08,1104.56 935.26,1102.91 935.5,1100.88 935.84,1099.13 936.26,1098.92 936.54,1096.05 936.5,1095.2 936.43,1096.59 937.08,1098.28 937.43,1100.58 937.48,1100.77 937.52,1101.92 937.74,1104.65 937.91,1105.13 938.26,1107.91 938.54,1108.0 938.63,1109.71 939.07,1111.55 939.1,1113.2 939.5,1112.55 939.84,1110.44 940.69,1108.85 940.86,1108.13 941.17,1106.77 941.7,1105.2 941.93,1107.31 942.29,1108.63 942.58,1110.08 942.75,1110.61 943.02,1112.44 943.09,1114.74 943.67,1115.73 944.06,1116.5 944.0,1119.18 944.5,1120.3 944.44,1119.46 944.94,1118.12 945.37,1115.61 945.27,1114.15 945.74,1112.69 945.93,1112.13 946.17,1109.77 946.38,1108.22 946.5,1106.58 946.93,1106.09 946.92,1103.81 947.1,1102.2 947.51,1103.57 948.66,1104.24 949.21,1105.51 949.7,1107.2 950.09,1105.25 950.29,1104.58 950.22,1103.15 950.78,1100.52 950.92,1099.52 951.44,1097.29 951.31,1095.83 951.91,1094.58 952.1,1093.2 952.51,1095.11 952.52,1096.36 952.64,1097.9 953.19,1098.73 953.45,1100.05 953.88,1102.29 954.1,1104.0 953.93,1105.62 954.42,1106.48 954.6,1108.2 955.05,1110.18 955.37,1110.73 955.88,1113.49 955.89,1115.03 956.56,1115.5 956.6,1117.3 956.75,1115.49 957.26,1113.96 957.44,1113.67 957.64,1112.1 958.21,1110.93 958.6,1109.2 958.78,1110.67 959.08,1111.35 959.79,1113.5 959.78,1116.03 960.15,1116.84 960.33,1118.12 961.1,1120.37 961.2,1121.3 961.74,1123.55 961.74,1123.49 962.03,1126.07 962.6,1127.3 962.92,1125.61 963.31,1123.88 963.53,1122.78 963.54,1121.97 963.86,1120.56 964.49,1118.45 964.59,1116.58 964.69,1116.01 965.2,1114.2 965.46,1115.66 965.79,1116.48 966.0,1118.72 966.49,1118.97 967.09,1120.33 967.2,1122.3 967.24,1120.21 967.64,1119.86 967.52,1118.66 968.12,1117.02 968.15,1114.84 968.16,1113.06 968.82,1111.63 969.04,1111.15 969.25,1108.43 969.15,1108.21 969.29,1105.68 969.31,1104.73 969.8,1103.2 971.23,1102.18 972.6,1102.2 972.76,1100.98 973.0,1099.8 973.72,1097.69 973.58,1096.51 973.98,1094.21 974.53,1093.57 974.56,1091.56 975.13,1091.31 975.3,1089.1 975.5,1090.82 975.71,1092.17 976.21,1093.45 976.52,1095.44 976.47,1096.25 976.98,1097.87 977.35,1100.23 977.69,1102.33 977.9,1103.2 978.44,1104.89 978.63,1106.27 979.6,1106.96 980.02,1108.09 980.3,1109.2 981.26,1107.59 982.29,1107.58 983.3,1106.2 984.0,1108.31 984.35,1109.8 984.78,1109.53 985.34,1111.87 985.9,1113.2 987.46,1112.72 988.7,1113.2 988.95,1114.95 989.58,1116.53 990.34,1116.59 990.85,1119.09 991.2,1120.77 991.9,1121.3 991.98,1119.22 992.64,1118.73 992.99,1117.73 993.09,1114.71 993.64,1113.82 993.89,1112.45 994.3,1111.2 995.3,1109.56 995.97,1108.82 996.5,1108.19 997.4,1106.2 997.54,1104.41 997.79,1103.7 998.37,1101.67 998.31,1100.66 998.73,1099.15 999.21,1096.73 999.4,1096.2 999.45,1098.15 1000.27,1098.21 1000.21,1100.19 1000.9,1101.36 1001.3,1102.34 1001.59,1103.65 1001.74,1106.67 1002.0,1107.2 1002.8,1106.61 1003.24,1105.35 1004.0,1103.2 1004.54,1104.17 1004.76,1106.7 1004.73,1107.13 1005.36,1108.83 1005.75,1109.96 1005.77,1110.85 1005.96,1113.5 1006.4,1114.2 1006.74,1116.13 1007.54,1116.77 1007.72,1116.96 1008.09,1119.67 1008.8,1120.3 1009.94,1120.47 1010.4,1119.75 1011.4,1118.3 1011.76,1119.46 1012.45,1121.68 1012.71,1122.11 1012.76,1123.33 1013.4,1125.3 1013.69,1123.41 1014.31,1122.3 1014.53,1121.98 1015.05,1119.07 1015.27,1118.73 1016.0,1117.3 1016.22,1118.8 1016.72,1120.04 1017.57,1121.57 1017.83,1123.51 1018.5,1124.3 1019.13,1123.42 1019.44,1122.26 1019.45,1120.05 1019.82,1119.04 1020.02,1116.59 1020.53,1115.72 1020.9,1114.2 1022.26,1113.57 1022.74,1113.33 1024.1,1113.2 1024.89,1111.27 1025.23,1110.98 1025.98,1109.29 1026.4,1109.21 1026.9,1107.2 1027.55,1108.76 1027.55,1110.36 1028.15,1111.85 1028.49,1112.76 1028.89,1114.15 1028.97,1115.14 1029.5,1117.3 1029.87,1118.21 1030.04,1119.94 1030.42,1121.65 1031.12,1123.35 1031.2,1124.62 1031.5,1126.3 1031.75,1125.41 1031.96,1123.41 1032.08,1121.37 1032.22,1119.74 1032.48,1118.2 1032.78,1117.7 1032.82,1116.57 1033.25,1114.88 1033.5,1113.2 1033.75,1115.19 1034.19,1115.43 1034.4,1117.14 1034.8,1118.79 1034.78,1119.64 1035.52,1121.25 1035.37,1124.16 1035.54,1124.68 1036.1,1126.3 1036.46,1125.29 1037.07,1124.49 1037.19,1121.55 1037.53,1120.08 1037.96,1119.85 1038.5,1118.3 1039.26,1119.08 1039.41,1122.0 1040.13,1122.62 1040.6,1124.3 1040.54,1121.99 1040.83,1121.49 1040.93,1119.78 1041.59,1117.37 1041.47,1116.6 1041.87,1115.67 1042.11,1113.62 1042.1,1112.46 1042.38,1111.5 1042.62,1109.37 1042.9,1107.68 1043.0,1106.2 1043.86,1105.49 1044.79,1105.1 1045.6,1103.2 1046.13,1101.94 1047.18,1101.27 1047.58,1099.1 1048.2,1098.2 1048.31,1099.55 1048.76,1101.08 1048.95,1102.67 1049.44,1103.48 1049.8,1106.08 1049.82,1106.75 1050.02,1108.65 1050.6,1110.2 1051.91,1109.04 1053.0,1108.2 1053.3,1109.78 1053.23,1110.17 1053.75,1113.13 1054.12,1113.65 1054.11,1114.47 1054.59,1117.0 1054.69,1117.17 1055.0,1119.3 1055.24,1121.1 1055.91,1121.98 1056.35,1123.39 1056.2,1124.48 1057.09,1126.81 1056.98,1127.49 1057.6,1129.3 1058.4,1129.93 1059.05,1131.39 1060.2,1131.3 1060.7,1132.39 1060.89,1134.46 1061.91,1136.24 1062.35,1138.04 1062.72,1138.09 1063.1,1140.4 1063.19,1139.04 1063.45,1136.87 1063.44,1136.53 1064.0,1134.0 1064.08,1133.52 1064.09,1131.57 1064.34,1130.56 1064.88,1129.13 1064.83,1126.82 1065.1,1125.3 1065.86,1124.37 1067.11,1124.81 1067.7,1123.3 1068.32,1122.65 1068.34,1120.81 1068.92,1119.01 1069.25,1118.29 1069.2,1116.11 1069.76,1114.37 1069.83,1113.04 1070.3,1112.2 1070.54,1111.53 1071.56,1109.98 1071.74,1108.44 1072.33,1106.49 1072.7,1105.2 1073.31,1105.78 1073.75,1107.42 1074.41,1109.24 1075.1,1110.2 1075.44,1108.48 1076.32,1108.21 1076.86,1106.95 1077.1,1105.2 1077.21,1106.74 1077.88,1108.88 1077.8,1109.87 1078.31,1110.59 1078.39,1113.47 1078.93,1114.5 1079.16,1116.22 1079.32,1116.99 1079.7,1119.3 1080.51,1118.46 1080.99,1117.12 1081.7,1115.3 1082.16,1117.14 1082.41,1119.14 1082.21,1120.6 1082.72,1121.8 1083.15,1122.08 1083.33,1123.56 1083.68,1125.51 1083.8,1127.3 1084.06,1128.41 1084.65,1130.59 1084.68,1132.28 1084.94,1133.91 1085.53,1135.36 1085.8,1136.4 1086.3,1135.76 1086.78,1133.3 1087.15,1131.97 1087.4,1129.98 1088.15,1129.39 1088.4,1127.3 1089.68,1128.64 1090.4,1129.3 1090.69,1127.54 1091.09,1126.43 1091.52,1125.03 1091.47,1122.62 1091.56,1121.95 1092.07,1119.68 1092.4,1118.3 1093.27,1117.62 1094.91,1116.57 1095.8,1116.3 1096.23,1115.2 1096.47,1113.34 1096.52,1111.91 1097.01,1110.87 1097.25,1108.2 1097.78,1107.12 1097.73,1105.6 1097.9,1103.21 1098.4,1102.2 1099.03,1103.47 1099.38,1104.35 1099.58,1105.73 1100.18,1107.71 1100.34,1108.66 1100.8,1110.2 1101.83,1110.68 1103.2,1112.2 1103.85,1113.08 1104.04,1114.43 1104.79,1116.74 1105.29,1116.91 1105.9,1118.3 1106.47,1120.27 1106.45,1121.26 1106.59,1122.39 1107.03,1124.84 1107.09,1126.11 1107.42,1127.91 1107.9,1129.3 1108.67,1128.27 1109.8,1126.46 1110.5,1125.3 1110.73,1125.93 1110.93,1128.29 1111.58,1128.81 1111.99,1131.6 1111.92,1132.31 1112.4,1133.32 1112.52,1135.41 1112.9,1136.4 1113.16,1134.72 1113.47,1132.58 1113.68,1131.33 1113.77,1130.18 1114.35,1128.61 1114.5,1127.31 1114.72,1126.3 1114.86,1122.98 1115.3,1122.3 1115.86,1124.05 1116.27,1124.92 1116.77,1126.04 1117.56,1128.55 1117.9,1129.3 1118.0,1127.95 1118.35,1125.71 1118.75,1124.97 1119.14,1124.18 1119.32,1121.55 1119.08,1121.08 1119.32,1119.39 1119.6,1117.96 1119.76,1115.38 1120.48,1114.69 1120.5,1113.2 1121.87,1114.55 1123.3,1114.2 1123.76,1112.26 1124.0,1111.1 1124.15,1109.53 1124.29,1108.07 1124.61,1106.42 1125.26,1105.32 1125.36,1104.65 1125.72,1102.03 1125.9,1101.2 1126.42,1103.44 1126.59,1103.82 1126.83,1105.85 1126.6,1106.83 1127.25,1108.6 1127.64,1110.5 1127.82,1112.31 1127.77,1113.64 1127.81,1114.91 1128.11,1115.84 1128.6,1117.3 1128.96,1115.18 1129.48,1115.12 1129.63,1112.79 1130.36,1111.95 1130.31,1110.2 1131.0,1109.2 1131.57,1110.18 1131.47,1111.89 1132.13,1113.92 1132.13,1115.05 1132.22,1115.35 1132.72,1117.77 1132.88,1118.09 1133.4,1120.3 1134.13,1118.31 1134.17,1116.71 1134.71,1115.65 1135.53,1114.9 1136.0,1113.2 1136.13,1114.74 1136.42,1116.36 1136.55,1117.95 1136.74,1120.0 1137.13,1120.85 1137.37,1122.16 1137.68,1124.02 1138.25,1125.9 1138.62,1126.71 1138.6,1128.3 1139.03,1126.7 1139.27,1125.65 1140.08,1123.5 1140.35,1122.65 1140.66,1121.21 1141.0,1120.3 1141.61,1121.69 1141.85,1123.01 1142.14,1123.78 1143.16,1125.15 1143.4,1127.3 1143.74,1126.23 1143.92,1125.33 1144.42,1124.01 1144.96,1121.96 1145.46,1119.69 1145.8,1119.5 1146.37,1118.1 1146.6,1116.3 1147.07,1117.06 1147.26,1119.17 1147.4,1121.06 1147.79,1122.13 1148.25,1122.84 1149.01,1125.09 1149.1,1126.3 1149.69,1125.12 1150.04,1124.22 1150.19,1121.96 1150.73,1120.97 1151.29,1120.18 1151.64,1117.63 1152.5,1117.07 1152.7,1115.3 1153.46,1116.07 1154.44,1116.67 1155.1,1118.3 1155.98,1118.81 1156.78,1119.53 1157.6,1121.95 1158.1,1122.3 1158.41,1122.89 1159.55,1125.27 1159.78,1126.44 1160.55,1126.64 1161.1,1128.3 1162.41,1127.81 1163.29,1128.27 1164.7,1127.3 1165.68,1125.59 1166.36,1125.13 1167.17,1123.11 1168.1,1122.3 1168.57,1121.76 1168.76,1119.15 1169.44,1119.12 1170.2,1116.02 1170.44,1114.9 1170.8,1114.2 1171.56,1112.54 1172.67,1113.09 1173.6,1111.2 1174.55,1109.96 1175.17,1109.54 1175.6,1108.2 1175.68,1110.44 1176.13,1112.09 1176.38,1113.47 1176.94,1114.29 1177.08,1115.76 1177.6,1117.3 1178.56,1118.4 1179.49,1119.36 1180.24,1119.64 1180.8,1121.3 1181.74,1122.81 1182.63,1123.67 1183.2,1125.3 1183.52,1124.43 1183.74,1122.21 1184.44,1121.28 1184.57,1118.71 1185.07,1118.0 1185.1,1116.52 1185.6,1115.3 1185.82,1117.25 1186.65,1118.81 1187.0,1118.69 1187.29,1121.53 1187.47,1121.68 1188.2,1123.3 1188.49,1121.19 1189.07,1120.48 1189.44,1119.41 1190.16,1116.64 1190.46,1115.76 1191.2,1114.2 1191.88,1115.23 1192.51,1115.99 1193.53,1116.53 1194.3,1118.3 1194.63,1117.46 1195.02,1114.72 1195.38,1113.18 1195.42,1111.59 1195.98,1110.44 1196.17,1108.88 1196.87,1107.47 1197.07,1107.21 1197.3,1105.2 1197.54,1106.8 1197.73,1108.68 1198.21,1108.81 1198.49,1110.38 1198.62,1111.91 1198.89,1114.21 1199.31,1115.07 1199.17,1116.75 1199.7,1118.3 1200.82,1119.73 1201.5,1121.44 1202.3,1122.3 1202.82,1124.61 1203.44,1125.73 1203.78,1126.16 1203.89,1128.68 1204.51,1130.45 1204.9,1131.3 1205.62,1129.6 1205.82,1128.78 1206.35,1127.09 1207.01,1125.52 1207.7,1124.3 1208.44,1125.79 1209.07,1126.01 1209.89,1128.42 1210.3,1129.3 1211.04,1128.0 1211.39,1127.0 1211.95,1125.04 1212.02,1122.44 1212.93,1122.42 1213.3,1120.3 1213.75,1121.28 1214.3,1123.91 1215.0,1124.13 1215.19,1125.77 1216.03,1127.35 1216.4,1129.3 1216.92,1127.7 1216.79,1126.26 1217.05,1125.65 1217.27,1123.37 1217.77,1121.25 1217.97,1121.51 1218.64,1119.05 1218.93,1118.48 1219.0,1116.3 1220.08,1115.61 1220.77,1114.12 1221.6,1113.0 1222.45,1111.96 1223.33,1109.97 1224.01,1109.78 1224.5,1108.1 1224.79,1110.2 1225.02,1110.85 1225.52,1113.37 1225.65,1114.63 1226.22,1116.23 1226.33,1117.24 1227.01,1119.12 1227.1,1119.9 1227.6,1119.19 1227.95,1117.36 1228.07,1115.98 1228.92,1115.44 1228.74,1112.96 1229.4,1112.0 1229.54,1114.19 1229.81,1115.62 1230.12,1116.42 1230.88,1117.61 1230.95,1119.44 1231.35,1120.64 1231.61,1122.55 1232.07,1124.25 1232.2,1125.28 1232.4,1127.7 1232.98,1126.47 1233.27,1125.19 1233.07,1123.71 1233.58,1121.26 1234.2,1120.62 1234.18,1118.08 1234.68,1116.58 1234.9,1115.9 1235.08,1116.56 1235.38,1119.29 1235.78,1121.19 1236.13,1122.32 1236.74,1123.51 1237.0,1124.07 1237.48,1126.95 1237.64,1127.1 1237.71,1128.69 1238.3,1130.6 1238.94,1128.74 1238.88,1127.59 1239.09,1126.54 1239.9,1124.14 1239.8,1123.68 1240.63,1121.9 1240.8,1119.9 1241.76,1121.02 1243.15,1119.66 1244.2,1120.8 1244.74,1119.69 1244.51,1118.56 1245.01,1116.64 1244.92,1114.4 1245.63,1112.57 1245.52,1111.21 1246.0,1109.86 1246.37,1108.95 1246.62,1108.31 1246.7,1106.1 1247.33,1107.09 1247.3,1109.71 1247.63,1111.52 1247.97,1112.5 1248.27,1114.22 1248.63,1115.22 1249.1,1116.9 1249.49,1116.08 1249.4,1113.49 1249.69,1113.15 1250.23,1111.65 1250.56,1109.37 1250.63,1107.54 1250.8,1107.2 1251.0,1106.14 1251.4,1104.2 1251.46,1105.6 1251.98,1106.72 1252.21,1108.55 1252.07,1109.53 1252.67,1112.33 1252.93,1113.91 1253.15,1115.27 1253.49,1116.44 1253.55,1117.17 1253.61,1118.55 1254.0,1120.8 1254.6,1119.31 1255.54,1118.31 1256.5,1116.9 1257.04,1118.03 1257.42,1120.59 1257.34,1121.69 1257.69,1122.29 1258.05,1124.08 1258.26,1125.3 1258.9,1127.7 1259.66,1129.83 1260.27,1129.88 1260.34,1132.77 1261.2,1133.6 1261.64,1132.14 1262.36,1131.3 1262.66,1129.43 1263.05,1129.26 1263.8,1127.7 1264.53,1128.17 1264.6,1130.34 1265.11,1131.58 1265.73,1132.47 1265.99,1134.05 1266.7,1135.5 1267.37,1133.49 1267.68,1133.34 1268.18,1131.14 1268.88,1130.57 1269.1,1128.7 1269.98,1129.64 1270.26,1131.21 1271.05,1132.82 1271.46,1133.93 1272.25,1134.94 1272.6,1136.5 1272.96,1134.56 1273.61,1133.05 1274.63,1132.52 1275.1,1130.98 1275.5,1129.7 1276.26,1130.43 1277.23,1132.01 1277.69,1133.81 1278.5,1134.6 1279.18,1134.12 1279.41,1131.7 1280.08,1130.32 1280.16,1129.04 1280.8,1127.7 1281.33,1128.49 1282.26,1129.88 1282.83,1131.02 1283.4,1132.6 1283.39,1131.58 1284.01,1129.92 1284.13,1127.45 1284.29,1127.11 1284.68,1125.15 1284.81,1122.87 1284.69,1122.57 1284.89,1119.98 1285.4,1118.9 1286.79,1118.76 1288.3,1117.9 1288.74,1117.18 1289.2,1114.73 1289.11,1113.08 1289.48,1111.66 1289.9,1111.0 1290.72,1112.51 1290.97,1112.96 1291.77,1114.68 1292.22,1115.99 1292.6,1117.9 1293.76,1116.75 1295.2,1116.9 1295.49,1118.05 1295.79,1120.37 1295.85,1120.87 1296.29,1122.89 1296.53,1124.38 1296.63,1125.48 1297.1,1127.7 1297.52,1129.48 1297.78,1131.04 1297.97,1131.78 1298.49,1133.93 1298.5,1134.98 1298.74,1137.82 1299.1,1138.5 1299.4,1137.65 1299.59,1135.88 1300.03,1133.82 1300.41,1132.71 1300.97,1131.33 1301.46,1129.48 1301.6,1128.7 1302.21,1130.05 1302.58,1131.44 1302.65,1133.81 1303.28,1134.97 1303.61,1136.41 1304.0,1137.5 1304.56,1136.46 1304.86,1134.29 1304.75,1133.78 1305.36,1132.32 1305.41,1129.99 1306.01,1128.14 1305.83,1126.62 1306.2,1125.59 1306.54,1124.2 1306.9,1122.8 1306.99,1123.92 1307.65,1124.8 1308.0,1127.73 1308.48,1129.2 1308.97,1129.79 1308.84,1130.41 1309.5,1132.6 1310.0,1131.75 1310.3,1129.0 1311.01,1128.27 1311.28,1126.06 1311.78,1125.4 1312.2,1123.8 1313.63,1125.02 1314.8,1124.8 1315.05,1124.02 1315.69,1121.89 1316.21,1121.21 1316.76,1118.51 1317.3,1117.9 1317.63,1118.81 1317.7,1120.18 1318.26,1122.44 1318.37,1123.42 1319.26,1125.69 1319.65,1127.23 1319.7,1128.7 1320.55,1130.22 1320.79,1130.25 1321.23,1132.77 1322.12,1133.06 1322.6,1134.6 1323.9,1135.3 1325.6,1135.5 1326.36,1136.3 1326.9,1138.06 1326.92,1138.68 1327.6,1140.5 1328.06,1139.73 1328.08,1136.94 1328.37,1135.35 1328.75,1134.18 1329.09,1133.08 1329.42,1130.82 1329.9,1129.7 1330.52,1130.4 1330.96,1131.56 1331.9,1133.6 1331.85,1132.34 1332.13,1130.42 1332.88,1129.1 1332.78,1127.14 1333.11,1125.43 1333.13,1123.56 1333.44,1122.08 1333.8,1120.32 1334.22,1118.93 1334.4,1117.9 1334.84,1119.71 1335.26,1121.27 1335.87,1122.21 1335.96,1122.94 1336.68,1125.0 1337.0,1126.7 1337.15,1124.4 1337.36,1124.3 1337.81,1122.67 1338.31,1120.05 1338.21,1119.65 1338.49,1117.58 1339.19,1115.79 1339.15,1115.12 1339.69,1113.52 1339.87,1110.7 1339.75,1108.79 1340.3,1108.1 1340.75,1109.68 1340.93,1111.94 1340.74,1113.47 1340.96,1113.55 1341.16,1116.53 1341.76,1116.88 1341.69,1119.24 1342.08,1120.88 1342.02,1121.19 1342.31,1123.96 1342.57,1125.35 1342.52,1126.21 1342.9,1127.7 1343.38,1126.36 1343.54,1125.31 1343.56,1123.63 1343.94,1121.71 1344.06,1120.91 1344.51,1119.76 1344.43,1117.73 1344.77,1116.57 1344.81,1114.41 1345.2,1113.0 1345.24,1115.05 1345.7,1115.13 1345.52,1116.88 1345.99,1119.53 1346.03,1119.78 1346.36,1122.25 1346.45,1123.14 1346.59,1124.58 1347.05,1126.36 1347.17,1128.17 1347.07,1129.19 1347.52,1131.75 1347.6,1132.6 1348.27,1133.29 1348.29,1134.51 1348.66,1136.35 1349.4,1138.62 1349.74,1138.55 1350.1,1140.5 1350.14,1138.38 1350.2,1137.68 1350.45,1135.48 1350.43,1135.31 1350.76,1133.31 1350.69,1131.29 1351.07,1129.3 1351.13,1129.52 1351.23,1126.41 1350.99,1126.26 1351.19,1124.13 1351.5,1122.8 1351.78,1124.62 1351.76,1126.14 1352.33,1127.27 1352.21,1129.16 1352.69,1130.67 1352.91,1132.35 1353.12,1132.9 1353.14,1134.34 1353.0,1136.08 1353.69,1137.51 1353.5,1140.15 1354.1,1141.36 1354.0,1142.4 1354.13,1141.52 1354.17,1138.58 1354.39,1137.7 1354.71,1137.18 1355.05,1135.7 1355.29,1133.37 1355.42,1131.32 1355.71,1131.48 1356.23,1129.98 1355.93,1127.63 1356.58,1125.64 1356.6,1124.8 1356.55,1125.78 1356.77,1128.25 1357.35,1130.21 1357.17,1131.2 1357.82,1131.77 1357.6,1134.72 1358.24,1134.59 1358.08,1137.16 1358.28,1138.27 1358.48,1139.16 1358.9,1141.4 1359.22,1139.95 1359.77,1137.46 1359.81,1136.06 1360.26,1134.71 1360.47,1134.63 1360.99,1132.57 1361.3,1130.21 1361.68,1130.07 1361.9,1127.7 1362.01,1129.71 1362.52,1129.96 1363.06,1132.53 1363.13,1132.75 1363.69,1134.17 1364.05,1136.98 1364.4,1137.5 1364.26,1135.85 1364.5,1133.86 1364.87,1133.75 1364.94,1131.53 1365.22,1130.55 1365.52,1128.08 1365.19,1127.61 1365.58,1126.03 1365.45,1124.34 1365.57,1121.64 1365.71,1120.53 1366.03,1119.54 1366.48,1117.61 1366.41,1116.06 1366.43,1114.28 1366.34,1112.74 1366.91,1112.2 1367.03,1110.03 1367.01,1108.06 1367.2,1107.1 1367.25,1109.47 1367.67,1109.88 1367.85,1111.51 1367.91,1112.85 1368.2,1115.19 1368.68,1115.57 1368.63,1116.92 1369.14,1118.25 1369.06,1119.5 1369.26,1121.78 1369.2,1122.7 1369.7,1124.8 1370.07,1123.28 1370.33,1121.05 1370.72,1120.1 1370.96,1119.08 1371.41,1117.48 1372.08,1115.08 1372.32,1114.72 1372.7,1113.0 1373.17,1114.81 1373.36,1116.23 1373.22,1117.97 1373.77,1118.86 1374.11,1119.54 1374.32,1121.56 1374.34,1123.82 1374.34,1124.75 1374.48,1125.4 1375.0,1127.7 1375.71,1128.5 1375.82,1129.62 1376.56,1131.61 1376.95,1132.49 1377.14,1133.74 1377.6,1135.5 1377.83,1134.41 1377.99,1132.73 1378.01,1131.93 1378.01,1129.05 1378.58,1129.04 1378.86,1126.27 1379.09,1125.18 1379.0,1123.8 1379.23,1125.65 1379.46,1127.65 1379.82,1128.22 1380.0,1129.81 1380.07,1131.11 1380.24,1132.95 1380.64,1135.19 1380.47,1137.31 1380.5,1138.51 1381.01,1138.78 1381.09,1140.54 1381.61,1142.09 1381.5,1144.4 1381.95,1142.93 1382.02,1142.1 1382.66,1139.98 1382.84,1137.61 1383.25,1135.85 1383.55,1135.14 1384.1,1133.6 1384.36,1135.61 1384.54,1136.16 1385.1,1138.57 1385.3,1139.24 1385.52,1141.07 1386.0,1143.39 1386.4,1144.4 1386.54,1142.54 1387.15,1140.73 1387.02,1140.54 1387.85,1137.79 1387.77,1136.48 1388.03,1135.5 1388.73,1133.79 1388.74,1132.45 1389.36,1129.7 1389.4,1128.7 1390.33,1129.41 1391.36,1131.83 1391.9,1132.6 1392.1,1131.52 1392.28,1128.78 1392.67,1127.28 1392.89,1127.16 1393.22,1124.59 1393.25,1123.6 1393.69,1122.7 1393.74,1120.39 1394.16,1118.71 1394.26,1117.21 1394.7,1115.9 1395.04,1116.82 1395.22,1118.9 1395.9,1120.29 1395.86,1120.96 1396.27,1122.99 1396.34,1124.7 1396.96,1125.96 1397.2,1127.7 1397.99,1126.71 1398.24,1124.44 1399.17,1124.21 1399.8,1122.8 1400.22,1123.61 1400.47,1125.79 1400.89,1126.75 1401.17,1128.23 1401.7,1128.41 1402.1,1130.6 1402.65,1132.53 1403.19,1134.16 1403.42,1134.68 1403.56,1136.49 1404.1,1137.5 1404.38,1135.88 1404.54,1135.09 1405.1,1133.6" stroke="#2e2e2e" stroke-width="4.0" fill="none" stroke-linejoin="round" stroke-linecap="round"/>
<path d="M1431.3 850.8 V940.9 M1431.3 1096.1 V1186.3" stroke="#1a1a1a" stroke-width="5.6" fill="none"/>
<path d="M1305.4 1186.6 H1408.6" stroke="#1a1a1a" stroke-width="5.6" fill="none"/>
<text transform="translate(1455.4 887.7) scale(1 1.04)" font-size="33.5">5</text><text transform="translate(1443.5 927.6) scale(1 1.04)" font-size="33.5">mN</text>
<text transform="translate(1455.4 1141.6) scale(1 1.04)" font-size="33.5">5</text><text transform="translate(1443.5 1181.7) scale(1 1.04)" font-size="33.5">mN</text>
<text transform="translate(1317.8 1236.6) scale(1 1.04)" font-size="33.5">5 min</text>
</svg></body></html>
